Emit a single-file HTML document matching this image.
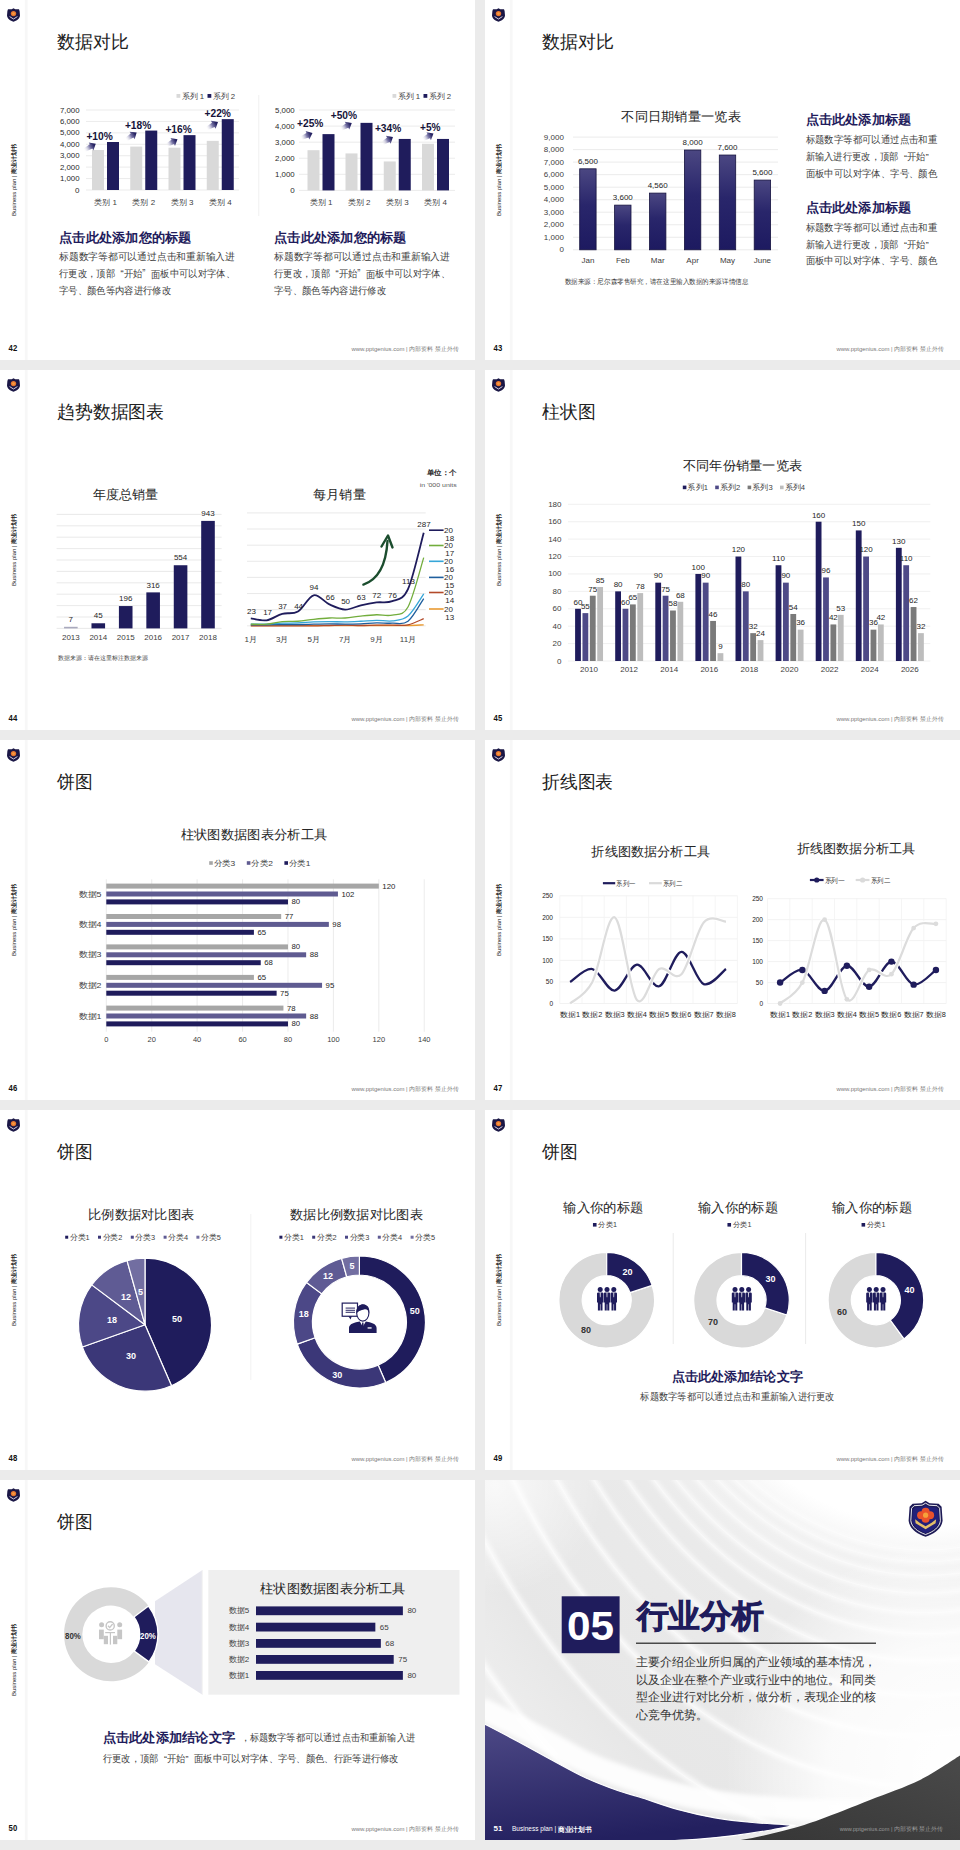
<!DOCTYPE html>
<html><head><meta charset="utf-8"><style>
html,body{margin:0;padding:0;background:#ebebeb;}
body{width:960px;height:1850px;position:relative;overflow:hidden;font-family:"Liberation Sans", sans-serif;}
.s{position:absolute;display:block;font-family:"Liberation Sans", sans-serif;}
</style></head><body>
<svg class="s" style="left:0px;top:0px" width="475" height="360" viewBox="0 0 475 360"><rect x="0.00" y="0.00" width="475.00" height="360.00" fill="#ffffff" /><rect x="24.80" y="0.00" width="2.80" height="360.00" fill="#f7f7f7" /><g transform="translate(7,8) scale(1.0000)"><path d="M6.5 0.2 L8.3 1.3 L12 1.2 L12.6 3 L13 7.5 C12.6 10.8 9.8 12.8 6.5 13.8 C3.2 12.8 0.4 10.8 0 7.5 L0.4 3 L1 1.2 L4.7 1.3 Z" fill="#1b1746"/><circle cx="6.5" cy="5.6" r="2.7" fill="#e8742e"/><circle cx="6.5" cy="5.6" r="1.4" fill="#f59b43"/><path d="M2.6 8.6 L6.5 11 L10.4 8.6" fill="none" stroke="#e6e0f0" stroke-width="0.9"/></g><g transform="translate(13.5,216) rotate(-90)"><text x="0" y="0" font-size="6" fill="#222" dominant-baseline="central">Business plan | <tspan font-weight="bold">商业计划书</tspan></text></g><text x="8.60" y="348.30" font-size="8.5" fill="#111" text-anchor="start" font-weight="bold" dominant-baseline="central" textLength="8.60" lengthAdjust="spacingAndGlyphs" >42</text><text x="458.50" y="349.00" font-size="6" fill="#7a7a7a" text-anchor="end" font-weight="normal" dominant-baseline="central" textLength="107.00" lengthAdjust="spacingAndGlyphs" >www.pptgenius.com | 内部资料 禁止外传</text><text x="57.00" y="41.50" font-size="18" fill="#222" text-anchor="start" font-weight="normal" dominant-baseline="central" >数据对比</text><line x1="86.00" y1="190.00" x2="239.00" y2="190.00" stroke="#e6e6e6" stroke-width="0.8" /><text x="79.50" y="190.00" font-size="8" fill="#2a2a2a" text-anchor="end" font-weight="normal" dominant-baseline="central" >0</text><line x1="86.00" y1="178.57" x2="239.00" y2="178.57" stroke="#e6e6e6" stroke-width="0.8" /><text x="79.50" y="178.57" font-size="8" fill="#2a2a2a" text-anchor="end" font-weight="normal" dominant-baseline="central" textLength="19.60" lengthAdjust="spacingAndGlyphs" >1,000</text><line x1="86.00" y1="167.14" x2="239.00" y2="167.14" stroke="#e6e6e6" stroke-width="0.8" /><text x="79.50" y="167.14" font-size="8" fill="#2a2a2a" text-anchor="end" font-weight="normal" dominant-baseline="central" textLength="19.60" lengthAdjust="spacingAndGlyphs" >2,000</text><line x1="86.00" y1="155.71" x2="239.00" y2="155.71" stroke="#e6e6e6" stroke-width="0.8" /><text x="79.50" y="155.71" font-size="8" fill="#2a2a2a" text-anchor="end" font-weight="normal" dominant-baseline="central" textLength="19.60" lengthAdjust="spacingAndGlyphs" >3,000</text><line x1="86.00" y1="144.29" x2="239.00" y2="144.29" stroke="#e6e6e6" stroke-width="0.8" /><text x="79.50" y="144.29" font-size="8" fill="#2a2a2a" text-anchor="end" font-weight="normal" dominant-baseline="central" textLength="19.60" lengthAdjust="spacingAndGlyphs" >4,000</text><line x1="86.00" y1="132.86" x2="239.00" y2="132.86" stroke="#e6e6e6" stroke-width="0.8" /><text x="79.50" y="132.86" font-size="8" fill="#2a2a2a" text-anchor="end" font-weight="normal" dominant-baseline="central" textLength="19.60" lengthAdjust="spacingAndGlyphs" >5,000</text><line x1="86.00" y1="121.43" x2="239.00" y2="121.43" stroke="#e6e6e6" stroke-width="0.8" /><text x="79.50" y="121.43" font-size="8" fill="#2a2a2a" text-anchor="end" font-weight="normal" dominant-baseline="central" textLength="19.60" lengthAdjust="spacingAndGlyphs" >6,000</text><line x1="86.00" y1="110.00" x2="239.00" y2="110.00" stroke="#e6e6e6" stroke-width="0.8" /><text x="79.50" y="110.00" font-size="8" fill="#2a2a2a" text-anchor="end" font-weight="normal" dominant-baseline="central" textLength="19.60" lengthAdjust="spacingAndGlyphs" >7,000</text><rect x="92.00" y="150.00" width="12.00" height="40.00" fill="#d9d9d9" /><rect x="107.00" y="142.00" width="12.00" height="48.00" fill="#1f1c5c" /><text x="105.50" y="202.50" font-size="8" fill="#404040" text-anchor="middle" font-weight="normal" dominant-baseline="central" >类别 1</text><rect x="130.25" y="146.57" width="12.00" height="43.43" fill="#d9d9d9" /><rect x="145.25" y="130.57" width="12.00" height="59.43" fill="#1f1c5c" /><text x="143.75" y="202.50" font-size="8" fill="#404040" text-anchor="middle" font-weight="normal" dominant-baseline="central" >类别 2</text><rect x="168.50" y="147.71" width="12.00" height="42.29" fill="#d9d9d9" /><rect x="183.50" y="135.14" width="12.00" height="54.86" fill="#1f1c5c" /><text x="182.00" y="202.50" font-size="8" fill="#404040" text-anchor="middle" font-weight="normal" dominant-baseline="central" >类别 3</text><rect x="206.75" y="140.86" width="12.00" height="49.14" fill="#d9d9d9" /><rect x="221.75" y="119.14" width="12.00" height="70.86" fill="#1f1c5c" /><text x="220.25" y="202.50" font-size="8" fill="#404040" text-anchor="middle" font-weight="normal" dominant-baseline="central" >类别 4</text><text x="86.40" y="136.00" font-size="11" fill="#15133a" text-anchor="start" font-weight="bold" dominant-baseline="central" textLength="26.40" lengthAdjust="spacingAndGlyphs" >+10%</text><text x="124.90" y="124.80" font-size="11" fill="#15133a" text-anchor="start" font-weight="bold" dominant-baseline="central" textLength="26.40" lengthAdjust="spacingAndGlyphs" >+18%</text><text x="165.40" y="128.60" font-size="11" fill="#15133a" text-anchor="start" font-weight="bold" dominant-baseline="central" textLength="26.40" lengthAdjust="spacingAndGlyphs" >+16%</text><text x="204.50" y="113.30" font-size="11" fill="#15133a" text-anchor="start" font-weight="bold" dominant-baseline="central" textLength="26.40" lengthAdjust="spacingAndGlyphs" >+22%</text><defs><linearGradient id="aar0" gradientUnits="userSpaceOnUse" x1="84" y1="150.5" x2="95.8" y2="143.7"><stop offset="0" stop-color="#ffffff" stop-opacity="0"/><stop offset="0.5" stop-color="#7d7aaa"/><stop offset="0.8" stop-color="#2a2766"/><stop offset="1" stop-color="#1f1c5c"/></linearGradient></defs><path d="M84.90,152.06 L92.28,148.61 L93.33,150.43 L95.80,143.70 L88.74,142.46 L89.79,144.28 L83.10,148.94 Z" fill="url(#aar0)"/><defs><linearGradient id="aar1" gradientUnits="userSpaceOnUse" x1="125.7" y1="139.7" x2="136.7" y2="132.5"><stop offset="0" stop-color="#ffffff" stop-opacity="0"/><stop offset="0.5" stop-color="#7d7aaa"/><stop offset="0.8" stop-color="#2a2766"/><stop offset="1" stop-color="#1f1c5c"/></linearGradient></defs><path d="M126.69,141.21 L133.47,137.60 L134.62,139.36 L136.70,132.50 L129.58,131.66 L130.73,133.42 L124.71,138.19 Z" fill="url(#aar1)"/><defs><linearGradient id="aar2" gradientUnits="userSpaceOnUse" x1="166.5" y1="145.5" x2="177.5" y2="139.2"><stop offset="0" stop-color="#ffffff" stop-opacity="0"/><stop offset="0.5" stop-color="#7d7aaa"/><stop offset="0.8" stop-color="#2a2766"/><stop offset="1" stop-color="#1f1c5c"/></linearGradient></defs><path d="M167.39,147.06 L173.97,144.10 L175.01,145.93 L177.50,139.20 L170.44,137.94 L171.48,139.76 L165.61,143.94 Z" fill="url(#aar2)"/><defs><linearGradient id="aar3" gradientUnits="userSpaceOnUse" x1="206.5" y1="128.8" x2="218" y2="122"><stop offset="0" stop-color="#ffffff" stop-opacity="0"/><stop offset="0.5" stop-color="#7d7aaa"/><stop offset="0.8" stop-color="#2a2766"/><stop offset="1" stop-color="#1f1c5c"/></linearGradient></defs><path d="M207.42,130.35 L214.54,126.95 L215.61,128.76 L218.00,122.00 L210.92,120.84 L211.99,122.65 L205.58,127.25 Z" fill="url(#aar3)"/><rect x="176.50" y="94.00" width="3.80" height="3.80" fill="#d9d9d9" /><text x="181.50" y="96.00" font-size="7.8" fill="#404040" text-anchor="start" font-weight="normal" dominant-baseline="central" >系列 1</text><rect x="207.50" y="94.00" width="3.80" height="3.80" fill="#1f1c5c" /><text x="212.50" y="96.00" font-size="7.8" fill="#404040" text-anchor="start" font-weight="normal" dominant-baseline="central" >系列 2</text><line x1="299.00" y1="190.40" x2="455.00" y2="190.40" stroke="#e6e6e6" stroke-width="0.8" /><text x="294.70" y="190.40" font-size="8" fill="#2a2a2a" text-anchor="end" font-weight="normal" dominant-baseline="central" >0</text><line x1="299.00" y1="174.32" x2="455.00" y2="174.32" stroke="#e6e6e6" stroke-width="0.8" /><text x="294.70" y="174.32" font-size="8" fill="#2a2a2a" text-anchor="end" font-weight="normal" dominant-baseline="central" textLength="19.60" lengthAdjust="spacingAndGlyphs" >1,000</text><line x1="299.00" y1="158.24" x2="455.00" y2="158.24" stroke="#e6e6e6" stroke-width="0.8" /><text x="294.70" y="158.24" font-size="8" fill="#2a2a2a" text-anchor="end" font-weight="normal" dominant-baseline="central" textLength="19.60" lengthAdjust="spacingAndGlyphs" >2,000</text><line x1="299.00" y1="142.16" x2="455.00" y2="142.16" stroke="#e6e6e6" stroke-width="0.8" /><text x="294.70" y="142.16" font-size="8" fill="#2a2a2a" text-anchor="end" font-weight="normal" dominant-baseline="central" textLength="19.60" lengthAdjust="spacingAndGlyphs" >3,000</text><line x1="299.00" y1="126.08" x2="455.00" y2="126.08" stroke="#e6e6e6" stroke-width="0.8" /><text x="294.70" y="126.08" font-size="8" fill="#2a2a2a" text-anchor="end" font-weight="normal" dominant-baseline="central" textLength="19.60" lengthAdjust="spacingAndGlyphs" >4,000</text><line x1="299.00" y1="110.00" x2="455.00" y2="110.00" stroke="#e6e6e6" stroke-width="0.8" /><text x="294.70" y="110.00" font-size="8" fill="#2a2a2a" text-anchor="end" font-weight="normal" dominant-baseline="central" textLength="19.60" lengthAdjust="spacingAndGlyphs" >5,000</text><rect x="307.50" y="150.20" width="12.00" height="40.20" fill="#d9d9d9" /><rect x="322.50" y="134.12" width="12.00" height="56.28" fill="#1f1c5c" /><text x="321.00" y="202.50" font-size="8" fill="#404040" text-anchor="middle" font-weight="normal" dominant-baseline="central" >类别 1</text><rect x="345.50" y="153.42" width="12.00" height="36.98" fill="#d9d9d9" /><rect x="360.50" y="122.86" width="12.00" height="67.54" fill="#1f1c5c" /><text x="359.00" y="202.50" font-size="8" fill="#404040" text-anchor="middle" font-weight="normal" dominant-baseline="central" >类别 2</text><rect x="383.75" y="161.46" width="12.00" height="28.94" fill="#d9d9d9" /><rect x="398.75" y="138.94" width="12.00" height="51.46" fill="#1f1c5c" /><text x="397.25" y="202.50" font-size="8" fill="#404040" text-anchor="middle" font-weight="normal" dominant-baseline="central" >类别 3</text><rect x="422.00" y="143.77" width="12.00" height="46.63" fill="#d9d9d9" /><rect x="437.00" y="138.94" width="12.00" height="51.46" fill="#1f1c5c" /><text x="435.50" y="202.50" font-size="8" fill="#404040" text-anchor="middle" font-weight="normal" dominant-baseline="central" >类别 4</text><text x="297.00" y="123.00" font-size="11" fill="#15133a" text-anchor="start" font-weight="bold" dominant-baseline="central" textLength="26.40" lengthAdjust="spacingAndGlyphs" >+25%</text><text x="330.70" y="114.80" font-size="11" fill="#15133a" text-anchor="start" font-weight="bold" dominant-baseline="central" textLength="26.40" lengthAdjust="spacingAndGlyphs" >+50%</text><text x="374.90" y="127.70" font-size="11" fill="#15133a" text-anchor="start" font-weight="bold" dominant-baseline="central" textLength="26.40" lengthAdjust="spacingAndGlyphs" >+34%</text><text x="420.00" y="126.50" font-size="11" fill="#15133a" text-anchor="start" font-weight="bold" dominant-baseline="central" textLength="20.50" lengthAdjust="spacingAndGlyphs" >+5%</text><defs><linearGradient id="bar0" gradientUnits="userSpaceOnUse" x1="300.6" y1="138.3" x2="312.5" y2="133.1"><stop offset="0" stop-color="#ffffff" stop-opacity="0"/><stop offset="0.5" stop-color="#7d7aaa"/><stop offset="0.8" stop-color="#2a2766"/><stop offset="1" stop-color="#1f1c5c"/></linearGradient></defs><path d="M301.32,139.95 L308.46,137.59 L309.30,139.52 L312.50,133.10 L305.62,131.09 L306.46,133.01 L299.88,136.65 Z" fill="url(#bar0)"/><defs><linearGradient id="bar1" gradientUnits="userSpaceOnUse" x1="340.6" y1="129.3" x2="351.8" y2="122.9"><stop offset="0" stop-color="#ffffff" stop-opacity="0"/><stop offset="0.5" stop-color="#7d7aaa"/><stop offset="0.8" stop-color="#2a2766"/><stop offset="1" stop-color="#1f1c5c"/></linearGradient></defs><path d="M341.49,130.86 L348.27,127.80 L349.31,129.62 L351.80,122.90 L344.74,121.63 L345.78,123.46 L339.71,127.74 Z" fill="url(#bar1)"/><defs><linearGradient id="bar2" gradientUnits="userSpaceOnUse" x1="382" y1="143.5" x2="393" y2="137"><stop offset="0" stop-color="#ffffff" stop-opacity="0"/><stop offset="0.5" stop-color="#7d7aaa"/><stop offset="0.8" stop-color="#2a2766"/><stop offset="1" stop-color="#1f1c5c"/></linearGradient></defs><path d="M382.92,145.05 L389.54,141.95 L390.61,143.76 L393.00,137.00 L385.92,135.84 L386.99,137.65 L381.08,141.95 Z" fill="url(#bar2)"/><defs><linearGradient id="bar3" gradientUnits="userSpaceOnUse" x1="422.7" y1="139.5" x2="433.5" y2="133.5"><stop offset="0" stop-color="#ffffff" stop-opacity="0"/><stop offset="0.5" stop-color="#7d7aaa"/><stop offset="0.8" stop-color="#2a2766"/><stop offset="1" stop-color="#1f1c5c"/></linearGradient></defs><path d="M423.57,141.07 L429.91,138.36 L430.93,140.19 L433.50,133.50 L426.46,132.15 L427.48,133.99 L421.83,137.93 Z" fill="url(#bar3)"/><rect x="392.50" y="94.00" width="3.80" height="3.80" fill="#d9d9d9" /><text x="397.50" y="96.00" font-size="7.8" fill="#404040" text-anchor="start" font-weight="normal" dominant-baseline="central" >系列 1</text><rect x="423.50" y="94.00" width="3.80" height="3.80" fill="#1f1c5c" /><text x="428.50" y="96.00" font-size="7.8" fill="#404040" text-anchor="start" font-weight="normal" dominant-baseline="central" >系列 2</text><line x1="258.80" y1="95.00" x2="258.80" y2="216.00" stroke="#f0f0f0" stroke-width="1" /><text x="59.00" y="237.00" font-size="13" fill="#1f1c5c" text-anchor="start" font-weight="bold" dominant-baseline="central" textLength="132.50" lengthAdjust="spacingAndGlyphs" >点击此处添加您的标题</text><text x="59.00" y="256.50" font-size="10" fill="#404040" text-anchor="start" font-weight="normal" dominant-baseline="central" textLength="176.00" lengthAdjust="spacingAndGlyphs" >标题数字等都可以通过点击和重新输入进</text><text x="59.00" y="273.70" font-size="10" fill="#404040" text-anchor="start" font-weight="normal" dominant-baseline="central" textLength="176.00" lengthAdjust="spacingAndGlyphs" >行更改，顶部<tspan dx="6">“</tspan>开始”<tspan dx="6">面</tspan>板中可以对字体、</text><text x="59.00" y="290.80" font-size="10" fill="#404040" text-anchor="start" font-weight="normal" dominant-baseline="central" textLength="112.00" lengthAdjust="spacingAndGlyphs" >字号、颜色等内容进行修改</text><text x="274.00" y="237.00" font-size="13" fill="#1f1c5c" text-anchor="start" font-weight="bold" dominant-baseline="central" textLength="132.50" lengthAdjust="spacingAndGlyphs" >点击此处添加您的标题</text><text x="274.00" y="256.50" font-size="10" fill="#404040" text-anchor="start" font-weight="normal" dominant-baseline="central" textLength="176.00" lengthAdjust="spacingAndGlyphs" >标题数字等都可以通过点击和重新输入进</text><text x="274.00" y="273.70" font-size="10" fill="#404040" text-anchor="start" font-weight="normal" dominant-baseline="central" textLength="176.00" lengthAdjust="spacingAndGlyphs" >行更改，顶部<tspan dx="6">“</tspan>开始”<tspan dx="6">面</tspan>板中可以对字体、</text><text x="274.00" y="290.80" font-size="10" fill="#404040" text-anchor="start" font-weight="normal" dominant-baseline="central" textLength="112.00" lengthAdjust="spacingAndGlyphs" >字号、颜色等内容进行修改</text></svg><svg class="s" style="left:485px;top:0px" width="475" height="360" viewBox="0 0 475 360"><rect x="0.00" y="0.00" width="475.00" height="360.00" fill="#ffffff" /><rect x="24.80" y="0.00" width="2.80" height="360.00" fill="#f7f7f7" /><g transform="translate(7,8) scale(1.0000)"><path d="M6.5 0.2 L8.3 1.3 L12 1.2 L12.6 3 L13 7.5 C12.6 10.8 9.8 12.8 6.5 13.8 C3.2 12.8 0.4 10.8 0 7.5 L0.4 3 L1 1.2 L4.7 1.3 Z" fill="#1b1746"/><circle cx="6.5" cy="5.6" r="2.7" fill="#e8742e"/><circle cx="6.5" cy="5.6" r="1.4" fill="#f59b43"/><path d="M2.6 8.6 L6.5 11 L10.4 8.6" fill="none" stroke="#e6e0f0" stroke-width="0.9"/></g><g transform="translate(13.5,216) rotate(-90)"><text x="0" y="0" font-size="6" fill="#222" dominant-baseline="central">Business plan | <tspan font-weight="bold">商业计划书</tspan></text></g><text x="8.60" y="348.30" font-size="8.5" fill="#111" text-anchor="start" font-weight="bold" dominant-baseline="central" textLength="8.60" lengthAdjust="spacingAndGlyphs" >43</text><text x="458.50" y="349.00" font-size="6" fill="#7a7a7a" text-anchor="end" font-weight="normal" dominant-baseline="central" textLength="107.00" lengthAdjust="spacingAndGlyphs" >www.pptgenius.com | 内部资料 禁止外传</text><text x="57.00" y="41.50" font-size="18" fill="#222" text-anchor="start" font-weight="normal" dominant-baseline="central" >数据对比</text><text x="196.10" y="116.00" font-size="13" fill="#262626" text-anchor="middle" font-weight="normal" dominant-baseline="central" textLength="119.50" lengthAdjust="spacingAndGlyphs" >不同日期销量一览表</text><line x1="88.00" y1="249.80" x2="293.00" y2="249.80" stroke="#e6e6e6" stroke-width="0.8" /><text x="78.90" y="249.80" font-size="8" fill="#404040" text-anchor="end" font-weight="normal" dominant-baseline="central" >0</text><line x1="88.00" y1="237.28" x2="293.00" y2="237.28" stroke="#e6e6e6" stroke-width="0.8" /><text x="78.90" y="237.28" font-size="8" fill="#404040" text-anchor="end" font-weight="normal" dominant-baseline="central" >1,000</text><line x1="88.00" y1="224.76" x2="293.00" y2="224.76" stroke="#e6e6e6" stroke-width="0.8" /><text x="78.90" y="224.76" font-size="8" fill="#404040" text-anchor="end" font-weight="normal" dominant-baseline="central" >2,000</text><line x1="88.00" y1="212.23" x2="293.00" y2="212.23" stroke="#e6e6e6" stroke-width="0.8" /><text x="78.90" y="212.23" font-size="8" fill="#404040" text-anchor="end" font-weight="normal" dominant-baseline="central" >3,000</text><line x1="88.00" y1="199.71" x2="293.00" y2="199.71" stroke="#e6e6e6" stroke-width="0.8" /><text x="78.90" y="199.71" font-size="8" fill="#404040" text-anchor="end" font-weight="normal" dominant-baseline="central" >4,000</text><line x1="88.00" y1="187.19" x2="293.00" y2="187.19" stroke="#e6e6e6" stroke-width="0.8" /><text x="78.90" y="187.19" font-size="8" fill="#404040" text-anchor="end" font-weight="normal" dominant-baseline="central" >5,000</text><line x1="88.00" y1="174.67" x2="293.00" y2="174.67" stroke="#e6e6e6" stroke-width="0.8" /><text x="78.90" y="174.67" font-size="8" fill="#404040" text-anchor="end" font-weight="normal" dominant-baseline="central" >6,000</text><line x1="88.00" y1="162.14" x2="293.00" y2="162.14" stroke="#e6e6e6" stroke-width="0.8" /><text x="78.90" y="162.14" font-size="8" fill="#404040" text-anchor="end" font-weight="normal" dominant-baseline="central" >7,000</text><line x1="88.00" y1="149.62" x2="293.00" y2="149.62" stroke="#e6e6e6" stroke-width="0.8" /><text x="78.90" y="149.62" font-size="8" fill="#404040" text-anchor="end" font-weight="normal" dominant-baseline="central" >8,000</text><line x1="88.00" y1="137.10" x2="293.00" y2="137.10" stroke="#e6e6e6" stroke-width="0.8" /><text x="78.90" y="137.10" font-size="8" fill="#404040" text-anchor="end" font-weight="normal" dominant-baseline="central" >9,000</text><defs><linearGradient id="g43" x1="0" y1="0" x2="0" y2="1"><stop offset="0" stop-color="#4b4782"/><stop offset="0.45" stop-color="#29266b"/><stop offset="1" stop-color="#1d1a60"/></linearGradient></defs><rect x="94.70" y="168.81" width="16.40" height="80.99" fill="url(#g43)" stroke="#16133f" stroke-width="0.8"/><text x="102.90" y="161.41" font-size="8" fill="#262626" text-anchor="middle" font-weight="normal" dominant-baseline="central" >6,500</text><text x="102.90" y="260.30" font-size="8" fill="#404040" text-anchor="middle" font-weight="normal" dominant-baseline="central" >Jan</text><rect x="129.60" y="205.12" width="16.40" height="44.68" fill="url(#g43)" stroke="#16133f" stroke-width="0.8"/><text x="137.80" y="197.72" font-size="8" fill="#262626" text-anchor="middle" font-weight="normal" dominant-baseline="central" >3,600</text><text x="137.80" y="260.30" font-size="8" fill="#404040" text-anchor="middle" font-weight="normal" dominant-baseline="central" >Feb</text><rect x="164.50" y="193.10" width="16.40" height="56.70" fill="url(#g43)" stroke="#16133f" stroke-width="0.8"/><text x="172.70" y="185.70" font-size="8" fill="#262626" text-anchor="middle" font-weight="normal" dominant-baseline="central" >4,560</text><text x="172.70" y="260.30" font-size="8" fill="#404040" text-anchor="middle" font-weight="normal" dominant-baseline="central" >Mar</text><rect x="199.40" y="150.02" width="16.40" height="99.78" fill="url(#g43)" stroke="#16133f" stroke-width="0.8"/><text x="207.60" y="142.62" font-size="8" fill="#262626" text-anchor="middle" font-weight="normal" dominant-baseline="central" >8,000</text><text x="207.60" y="260.30" font-size="8" fill="#404040" text-anchor="middle" font-weight="normal" dominant-baseline="central" >Apr</text><rect x="234.30" y="155.03" width="16.40" height="94.77" fill="url(#g43)" stroke="#16133f" stroke-width="0.8"/><text x="242.50" y="147.63" font-size="8" fill="#262626" text-anchor="middle" font-weight="normal" dominant-baseline="central" >7,600</text><text x="242.50" y="260.30" font-size="8" fill="#404040" text-anchor="middle" font-weight="normal" dominant-baseline="central" >May</text><rect x="269.20" y="180.08" width="16.40" height="69.72" fill="url(#g43)" stroke="#16133f" stroke-width="0.8"/><text x="277.40" y="172.68" font-size="8" fill="#262626" text-anchor="middle" font-weight="normal" dominant-baseline="central" >5,600</text><text x="277.40" y="260.30" font-size="8" fill="#404040" text-anchor="middle" font-weight="normal" dominant-baseline="central" >June</text><text x="79.70" y="281.00" font-size="6.5" fill="#404040" text-anchor="start" font-weight="normal" dominant-baseline="central" textLength="183.50" lengthAdjust="spacingAndGlyphs" >数据来源：尼尔森零售研究，请在这里输入数据的来源详情信息</text><text x="320.60" y="119.50" font-size="13" fill="#1f1c5c" text-anchor="start" font-weight="bold" dominant-baseline="central" textLength="105.50" lengthAdjust="spacingAndGlyphs" >点击此处添加标题</text><text x="320.60" y="139.80" font-size="9.5" fill="#404040" text-anchor="start" font-weight="normal" dominant-baseline="central" textLength="131.50" lengthAdjust="spacingAndGlyphs" >标题数字等都可以通过点击和重</text><text x="320.60" y="156.70" font-size="9.5" fill="#404040" text-anchor="start" font-weight="normal" dominant-baseline="central" textLength="123.00" lengthAdjust="spacingAndGlyphs" >新输入进行更改，顶部<tspan dx="6">“</tspan>开始”</text><text x="320.60" y="173.10" font-size="9.5" fill="#404040" text-anchor="start" font-weight="normal" dominant-baseline="central" textLength="131.50" lengthAdjust="spacingAndGlyphs" >面板中可以对字体、字号、颜色</text><text x="320.60" y="207.10" font-size="13" fill="#1f1c5c" text-anchor="start" font-weight="bold" dominant-baseline="central" textLength="105.50" lengthAdjust="spacingAndGlyphs" >点击此处添加标题</text><text x="320.60" y="227.40" font-size="9.5" fill="#404040" text-anchor="start" font-weight="normal" dominant-baseline="central" textLength="131.50" lengthAdjust="spacingAndGlyphs" >标题数字等都可以通过点击和重</text><text x="320.60" y="244.30" font-size="9.5" fill="#404040" text-anchor="start" font-weight="normal" dominant-baseline="central" textLength="123.00" lengthAdjust="spacingAndGlyphs" >新输入进行更改，顶部<tspan dx="6">“</tspan>开始”</text><text x="320.60" y="260.70" font-size="9.5" fill="#404040" text-anchor="start" font-weight="normal" dominant-baseline="central" textLength="131.50" lengthAdjust="spacingAndGlyphs" >面板中可以对字体、字号、颜色</text></svg><svg class="s" style="left:0px;top:370px" width="475" height="360" viewBox="0 0 475 360"><rect x="0.00" y="0.00" width="475.00" height="360.00" fill="#ffffff" /><rect x="24.80" y="0.00" width="2.80" height="360.00" fill="#f7f7f7" /><g transform="translate(7,8) scale(1.0000)"><path d="M6.5 0.2 L8.3 1.3 L12 1.2 L12.6 3 L13 7.5 C12.6 10.8 9.8 12.8 6.5 13.8 C3.2 12.8 0.4 10.8 0 7.5 L0.4 3 L1 1.2 L4.7 1.3 Z" fill="#1b1746"/><circle cx="6.5" cy="5.6" r="2.7" fill="#e8742e"/><circle cx="6.5" cy="5.6" r="1.4" fill="#f59b43"/><path d="M2.6 8.6 L6.5 11 L10.4 8.6" fill="none" stroke="#e6e0f0" stroke-width="0.9"/></g><g transform="translate(13.5,216) rotate(-90)"><text x="0" y="0" font-size="6" fill="#222" dominant-baseline="central">Business plan | <tspan font-weight="bold">商业计划书</tspan></text></g><text x="8.60" y="348.30" font-size="8.5" fill="#111" text-anchor="start" font-weight="bold" dominant-baseline="central" textLength="8.60" lengthAdjust="spacingAndGlyphs" >44</text><text x="458.50" y="349.00" font-size="6" fill="#7a7a7a" text-anchor="end" font-weight="normal" dominant-baseline="central" textLength="107.00" lengthAdjust="spacingAndGlyphs" >www.pptgenius.com | 内部资料 禁止外传</text><text x="57.00" y="41.50" font-size="18" fill="#222" text-anchor="start" font-weight="normal" dominant-baseline="central" textLength="107.00" lengthAdjust="spacingAndGlyphs" >趋势数据图表</text><text x="125.60" y="124.40" font-size="13" fill="#262626" text-anchor="middle" font-weight="normal" dominant-baseline="central" textLength="65.50" lengthAdjust="spacingAndGlyphs" >年度总销量</text><line x1="56.60" y1="258.40" x2="221.60" y2="258.40" stroke="#e3e3e3" stroke-width="0.8" /><line x1="56.60" y1="247.00" x2="221.60" y2="247.00" stroke="#e3e3e3" stroke-width="0.8" /><line x1="56.60" y1="235.60" x2="221.60" y2="235.60" stroke="#e3e3e3" stroke-width="0.8" /><line x1="56.60" y1="224.20" x2="221.60" y2="224.20" stroke="#e3e3e3" stroke-width="0.8" /><line x1="56.60" y1="212.80" x2="221.60" y2="212.80" stroke="#e3e3e3" stroke-width="0.8" /><line x1="56.60" y1="201.40" x2="221.60" y2="201.40" stroke="#e3e3e3" stroke-width="0.8" /><line x1="56.60" y1="190.00" x2="221.60" y2="190.00" stroke="#e3e3e3" stroke-width="0.8" /><line x1="56.60" y1="178.60" x2="221.60" y2="178.60" stroke="#e3e3e3" stroke-width="0.8" /><line x1="56.60" y1="167.20" x2="221.60" y2="167.20" stroke="#e3e3e3" stroke-width="0.8" /><line x1="56.60" y1="155.80" x2="221.60" y2="155.80" stroke="#e3e3e3" stroke-width="0.8" /><line x1="56.60" y1="144.40" x2="221.60" y2="144.40" stroke="#e3e3e3" stroke-width="0.8" /><rect x="64.05" y="256.80" width="13.60" height="1.60" fill="#a9a9bd" /><text x="70.85" y="249.50" font-size="8" fill="#262626" text-anchor="middle" font-weight="normal" dominant-baseline="central" >7</text><text x="70.85" y="267.80" font-size="8" fill="#404040" text-anchor="middle" font-weight="normal" dominant-baseline="central" >2013</text><rect x="91.48" y="253.27" width="13.60" height="5.13" fill="#1f1c5c" /><text x="98.28" y="245.97" font-size="8" fill="#262626" text-anchor="middle" font-weight="normal" dominant-baseline="central" >45</text><text x="98.28" y="267.80" font-size="8" fill="#404040" text-anchor="middle" font-weight="normal" dominant-baseline="central" >2014</text><rect x="118.91" y="236.06" width="13.60" height="22.34" fill="#1f1c5c" /><text x="125.71" y="228.76" font-size="8" fill="#262626" text-anchor="middle" font-weight="normal" dominant-baseline="central" >196</text><text x="125.71" y="267.80" font-size="8" fill="#404040" text-anchor="middle" font-weight="normal" dominant-baseline="central" >2015</text><rect x="146.34" y="222.38" width="13.60" height="36.02" fill="#1f1c5c" /><text x="153.14" y="215.08" font-size="8" fill="#262626" text-anchor="middle" font-weight="normal" dominant-baseline="central" >316</text><text x="153.14" y="267.80" font-size="8" fill="#404040" text-anchor="middle" font-weight="normal" dominant-baseline="central" >2016</text><rect x="173.77" y="195.24" width="13.60" height="63.16" fill="#1f1c5c" /><text x="180.57" y="187.94" font-size="8" fill="#262626" text-anchor="middle" font-weight="normal" dominant-baseline="central" >554</text><text x="180.57" y="267.80" font-size="8" fill="#404040" text-anchor="middle" font-weight="normal" dominant-baseline="central" >2017</text><rect x="201.20" y="150.90" width="13.60" height="107.50" fill="#1f1c5c" /><text x="208.00" y="143.60" font-size="8" fill="#262626" text-anchor="middle" font-weight="normal" dominant-baseline="central" >943</text><text x="208.00" y="267.80" font-size="8" fill="#404040" text-anchor="middle" font-weight="normal" dominant-baseline="central" >2018</text><text x="57.90" y="288.40" font-size="6" fill="#404040" text-anchor="start" font-weight="normal" dominant-baseline="central" textLength="90.00" lengthAdjust="spacingAndGlyphs" >数据来源：请在这里标注数据来源</text><text x="339.40" y="124.70" font-size="13" fill="#262626" text-anchor="middle" font-weight="normal" dominant-baseline="central" textLength="52.70" lengthAdjust="spacingAndGlyphs" >每月销量</text><text x="456.80" y="102.00" font-size="7" fill="#262626" text-anchor="end" font-weight="bold" dominant-baseline="central" textLength="30.00" lengthAdjust="spacingAndGlyphs" >单位：个</text><text x="456.80" y="114.70" font-size="6" fill="#595959" text-anchor="end" font-weight="normal" dominant-baseline="central" textLength="37.00" lengthAdjust="spacingAndGlyphs" >in '000 units</text><line x1="247.00" y1="255.80" x2="425.70" y2="255.80" stroke="#e3e3e3" stroke-width="0.8" /><line x1="247.00" y1="239.67" x2="425.70" y2="239.67" stroke="#e3e3e3" stroke-width="0.8" /><line x1="247.00" y1="223.54" x2="425.70" y2="223.54" stroke="#e3e3e3" stroke-width="0.8" /><line x1="247.00" y1="207.41" x2="425.70" y2="207.41" stroke="#e3e3e3" stroke-width="0.8" /><line x1="247.00" y1="191.29" x2="425.70" y2="191.29" stroke="#e3e3e3" stroke-width="0.8" /><line x1="247.00" y1="175.16" x2="425.70" y2="175.16" stroke="#e3e3e3" stroke-width="0.8" /><line x1="247.00" y1="159.03" x2="425.70" y2="159.03" stroke="#e3e3e3" stroke-width="0.8" /><line x1="247.00" y1="142.90" x2="425.70" y2="142.90" stroke="#e3e3e3" stroke-width="0.8" /><path d="M250.80,255.48 C253.42,255.48 261.28,255.48 266.52,255.48 C271.76,255.48 277.00,255.48 282.24,255.48 C287.48,255.48 292.72,255.48 297.96,255.48 C303.20,255.48 308.44,255.48 313.68,255.48 C318.92,255.48 324.16,255.48 329.40,255.48 C334.64,255.48 339.88,255.48 345.12,255.48 C350.36,255.48 355.60,255.48 360.84,255.48 C366.08,255.48 371.32,255.48 376.56,255.48 C381.80,255.48 387.04,255.48 392.28,255.48 C397.52,255.48 402.76,255.58 408.00,255.48 C413.24,255.37 421.10,254.93 423.72,254.83" fill="none" stroke="#e99a32" stroke-width="1.3"/><path d="M250.80,255.80 C253.42,255.80 261.28,255.80 266.52,255.80 C271.76,255.80 277.00,255.80 282.24,255.80 C287.48,255.80 292.72,255.80 297.96,255.80 C303.20,255.80 308.44,255.85 313.68,255.80 C318.92,255.75 324.16,255.58 329.40,255.48 C334.64,255.37 339.88,255.15 345.12,255.15 C350.36,255.15 355.60,255.48 360.84,255.48 C366.08,255.48 371.32,255.20 376.56,255.15 C381.80,255.10 387.04,255.20 392.28,255.15 C397.52,255.10 402.76,255.91 408.00,254.83 C413.24,253.74 421.10,249.69 423.72,248.66" fill="none" stroke="#b34a2a" stroke-width="1.3"/><path d="M250.80,254.83 C253.42,254.83 261.28,254.88 266.52,254.83 C271.76,254.77 277.00,254.56 282.24,254.50 C287.48,254.45 292.72,254.56 297.96,254.50 C303.20,254.45 308.44,254.29 313.68,254.18 C318.92,254.07 324.16,253.85 329.40,253.85 C334.64,253.85 339.88,254.18 345.12,254.18 C350.36,254.18 355.60,254.07 360.84,253.85 C366.08,253.64 371.32,252.99 376.56,252.88 C381.80,252.77 387.04,253.47 392.28,253.20 C397.52,252.93 402.76,255.37 408.00,251.26 C413.24,247.14 421.10,232.32 423.72,228.53" fill="none" stroke="#1f5f9e" stroke-width="1.3"/><path d="M250.80,254.18 C253.42,254.18 261.28,254.34 266.52,254.18 C271.76,254.01 277.00,253.42 282.24,253.20 C287.48,252.99 292.72,253.09 297.96,252.88 C303.20,252.66 308.44,252.12 313.68,251.90 C318.92,251.69 324.16,251.58 329.40,251.58 C334.64,251.58 339.88,251.96 345.12,251.90 C350.36,251.85 355.60,251.53 360.84,251.26 C366.08,250.99 371.32,250.34 376.56,250.28 C381.80,250.23 387.04,251.63 392.28,250.93 C397.52,250.23 402.76,250.55 408.00,246.06 C413.24,241.57 421.10,227.67 423.72,223.99" fill="none" stroke="#36a6d8" stroke-width="1.3"/><path d="M250.80,254.18 C253.42,254.18 261.28,254.61 266.52,254.18 C271.76,253.74 277.00,252.07 282.24,251.58 C287.48,251.09 292.72,251.63 297.96,251.26 C303.20,250.88 308.44,249.85 313.68,249.31 C318.92,248.77 324.16,248.23 329.40,248.01 C334.64,247.79 339.88,248.33 345.12,248.01 C350.36,247.69 355.60,246.60 360.84,246.06 C366.08,245.52 371.32,244.93 376.56,244.76 C381.80,244.60 387.04,246.39 392.28,245.09 C397.52,243.79 402.76,246.55 408.00,236.97 C413.24,227.40 421.10,195.86 423.72,187.63" fill="none" stroke="#72ad3c" stroke-width="1.3"/><path d="M250.80,248.33 C253.42,248.66 261.28,251.04 266.52,250.28 C271.76,249.52 277.00,245.25 282.24,243.79 C287.48,242.33 292.72,244.60 297.96,241.52 C303.20,238.43 308.44,226.48 313.68,225.29 C318.92,224.10 324.16,232.00 329.40,234.38 C334.64,236.76 339.88,239.41 345.12,239.57 C350.36,239.73 355.60,236.54 360.84,235.35 C366.08,234.16 371.32,233.13 376.56,232.43 C381.80,231.73 387.04,233.35 392.28,231.13 C397.52,228.91 402.76,230.54 408.00,219.12 C413.24,207.71 421.10,172.05 423.72,162.64" fill="none" stroke="#1f1c5c" stroke-width="1.8"/><text x="251.50" y="241.00" font-size="8" fill="#262626" text-anchor="middle" font-weight="normal" dominant-baseline="central" >23</text><text x="267.60" y="242.00" font-size="8" fill="#262626" text-anchor="middle" font-weight="normal" dominant-baseline="central" >17</text><text x="282.60" y="236.00" font-size="8" fill="#262626" text-anchor="middle" font-weight="normal" dominant-baseline="central" >37</text><text x="298.60" y="236.00" font-size="8" fill="#262626" text-anchor="middle" font-weight="normal" dominant-baseline="central" >44</text><text x="314.00" y="217.70" font-size="8" fill="#262626" text-anchor="middle" font-weight="normal" dominant-baseline="central" >94</text><text x="330.30" y="227.00" font-size="8" fill="#262626" text-anchor="middle" font-weight="normal" dominant-baseline="central" >66</text><text x="345.60" y="231.80" font-size="8" fill="#262626" text-anchor="middle" font-weight="normal" dominant-baseline="central" >50</text><text x="361.20" y="227.80" font-size="8" fill="#262626" text-anchor="middle" font-weight="normal" dominant-baseline="central" >63</text><text x="376.80" y="225.40" font-size="8" fill="#262626" text-anchor="middle" font-weight="normal" dominant-baseline="central" >72</text><text x="392.40" y="225.40" font-size="8" fill="#262626" text-anchor="middle" font-weight="normal" dominant-baseline="central" >76</text><text x="408.50" y="211.70" font-size="8" fill="#262626" text-anchor="middle" font-weight="normal" dominant-baseline="central" >113</text><text x="424.00" y="154.70" font-size="8" fill="#262626" text-anchor="middle" font-weight="normal" dominant-baseline="central" >287</text><text x="250.80" y="269.20" font-size="8" fill="#404040" text-anchor="middle" font-weight="normal" dominant-baseline="central" >1月</text><text x="282.24" y="269.20" font-size="8" fill="#404040" text-anchor="middle" font-weight="normal" dominant-baseline="central" >3月</text><text x="313.68" y="269.20" font-size="8" fill="#404040" text-anchor="middle" font-weight="normal" dominant-baseline="central" >5月</text><text x="345.12" y="269.20" font-size="8" fill="#404040" text-anchor="middle" font-weight="normal" dominant-baseline="central" >7月</text><text x="376.56" y="269.20" font-size="8" fill="#404040" text-anchor="middle" font-weight="normal" dominant-baseline="central" >9月</text><text x="408.00" y="269.20" font-size="8" fill="#404040" text-anchor="middle" font-weight="normal" dominant-baseline="central" >11月</text><line x1="429.00" y1="160.20" x2="443.60" y2="160.20" stroke="#1f1c5c" stroke-width="1.6" /><text x="444.00" y="160.20" font-size="8" fill="#262626" text-anchor="start" font-weight="normal" dominant-baseline="central" >20</text><text x="445.20" y="168.60" font-size="8" fill="#262626" text-anchor="start" font-weight="normal" dominant-baseline="central" >18</text><line x1="429.00" y1="175.50" x2="443.60" y2="175.50" stroke="#72ad3c" stroke-width="1.6" /><text x="444.00" y="175.50" font-size="8" fill="#262626" text-anchor="start" font-weight="normal" dominant-baseline="central" >20</text><text x="445.20" y="183.90" font-size="8" fill="#262626" text-anchor="start" font-weight="normal" dominant-baseline="central" >17</text><line x1="429.00" y1="191.30" x2="443.60" y2="191.30" stroke="#36a6d8" stroke-width="1.6" /><text x="444.00" y="191.30" font-size="8" fill="#262626" text-anchor="start" font-weight="normal" dominant-baseline="central" >20</text><text x="445.20" y="199.70" font-size="8" fill="#262626" text-anchor="start" font-weight="normal" dominant-baseline="central" >16</text><line x1="429.00" y1="207.40" x2="443.60" y2="207.40" stroke="#1f5f9e" stroke-width="1.6" /><text x="444.00" y="207.40" font-size="8" fill="#262626" text-anchor="start" font-weight="normal" dominant-baseline="central" >20</text><text x="445.20" y="215.80" font-size="8" fill="#262626" text-anchor="start" font-weight="normal" dominant-baseline="central" >15</text><line x1="429.00" y1="222.50" x2="443.60" y2="222.50" stroke="#b34a2a" stroke-width="1.6" /><text x="444.00" y="222.50" font-size="8" fill="#262626" text-anchor="start" font-weight="normal" dominant-baseline="central" >20</text><text x="445.20" y="230.90" font-size="8" fill="#262626" text-anchor="start" font-weight="normal" dominant-baseline="central" >14</text><line x1="429.00" y1="239.00" x2="443.60" y2="239.00" stroke="#e99a32" stroke-width="1.6" /><text x="444.00" y="239.00" font-size="8" fill="#262626" text-anchor="start" font-weight="normal" dominant-baseline="central" >20</text><text x="445.20" y="247.40" font-size="8" fill="#262626" text-anchor="start" font-weight="normal" dominant-baseline="central" >13</text><path d="M363.4,214.6 C377,210 386,196 387.5,171" fill="none" stroke="#1b4d2e" stroke-width="2.4" stroke-linecap="round"/><path d="M381.5,176.5 L388,165.5 L392.5,177.5" fill="none" stroke="#1b4d2e" stroke-width="2.4" stroke-linecap="round" stroke-linejoin="round"/></svg><svg class="s" style="left:485px;top:370px" width="475" height="360" viewBox="0 0 475 360"><rect x="0.00" y="0.00" width="475.00" height="360.00" fill="#ffffff" /><rect x="24.80" y="0.00" width="2.80" height="360.00" fill="#f7f7f7" /><g transform="translate(7,8) scale(1.0000)"><path d="M6.5 0.2 L8.3 1.3 L12 1.2 L12.6 3 L13 7.5 C12.6 10.8 9.8 12.8 6.5 13.8 C3.2 12.8 0.4 10.8 0 7.5 L0.4 3 L1 1.2 L4.7 1.3 Z" fill="#1b1746"/><circle cx="6.5" cy="5.6" r="2.7" fill="#e8742e"/><circle cx="6.5" cy="5.6" r="1.4" fill="#f59b43"/><path d="M2.6 8.6 L6.5 11 L10.4 8.6" fill="none" stroke="#e6e0f0" stroke-width="0.9"/></g><g transform="translate(13.5,216) rotate(-90)"><text x="0" y="0" font-size="6" fill="#222" dominant-baseline="central">Business plan | <tspan font-weight="bold">商业计划书</tspan></text></g><text x="8.60" y="348.30" font-size="8.5" fill="#111" text-anchor="start" font-weight="bold" dominant-baseline="central" textLength="8.60" lengthAdjust="spacingAndGlyphs" >45</text><text x="458.50" y="349.00" font-size="6" fill="#7a7a7a" text-anchor="end" font-weight="normal" dominant-baseline="central" textLength="107.00" lengthAdjust="spacingAndGlyphs" >www.pptgenius.com | 内部资料 禁止外传</text><text x="57.00" y="41.50" font-size="18" fill="#222" text-anchor="start" font-weight="normal" dominant-baseline="central" textLength="53.50" lengthAdjust="spacingAndGlyphs" >柱状图</text><text x="257.50" y="95.00" font-size="13" fill="#262626" text-anchor="middle" font-weight="normal" dominant-baseline="central" textLength="119.00" lengthAdjust="spacingAndGlyphs" >不同年份销量一览表</text><rect x="197.80" y="115.60" width="3.60" height="3.60" fill="#1f1c5c" /><text x="202.40" y="117.50" font-size="7.5" fill="#404040" text-anchor="start" font-weight="normal" dominant-baseline="central" textLength="20.50" lengthAdjust="spacingAndGlyphs" >系列1</text><rect x="230.20" y="115.60" width="3.60" height="3.60" fill="#4e4a87" /><text x="234.80" y="117.50" font-size="7.5" fill="#404040" text-anchor="start" font-weight="normal" dominant-baseline="central" textLength="20.50" lengthAdjust="spacingAndGlyphs" >系列2</text><rect x="262.60" y="115.60" width="3.60" height="3.60" fill="#7a7a7a" /><text x="267.20" y="117.50" font-size="7.5" fill="#404040" text-anchor="start" font-weight="normal" dominant-baseline="central" textLength="20.50" lengthAdjust="spacingAndGlyphs" >系列3</text><rect x="295.00" y="115.60" width="3.60" height="3.60" fill="#bdbdbd" /><text x="299.60" y="117.50" font-size="7.5" fill="#404040" text-anchor="start" font-weight="normal" dominant-baseline="central" textLength="20.50" lengthAdjust="spacingAndGlyphs" >系列4</text><line x1="83.00" y1="291.00" x2="445.30" y2="291.00" stroke="#ececec" stroke-width="0.8" /><text x="76.50" y="291.00" font-size="8" fill="#404040" text-anchor="end" font-weight="normal" dominant-baseline="central" >0</text><line x1="83.00" y1="273.59" x2="445.30" y2="273.59" stroke="#ececec" stroke-width="0.8" /><text x="76.50" y="273.59" font-size="8" fill="#404040" text-anchor="end" font-weight="normal" dominant-baseline="central" >20</text><line x1="83.00" y1="256.18" x2="445.30" y2="256.18" stroke="#ececec" stroke-width="0.8" /><text x="76.50" y="256.18" font-size="8" fill="#404040" text-anchor="end" font-weight="normal" dominant-baseline="central" >40</text><line x1="83.00" y1="238.77" x2="445.30" y2="238.77" stroke="#ececec" stroke-width="0.8" /><text x="76.50" y="238.77" font-size="8" fill="#404040" text-anchor="end" font-weight="normal" dominant-baseline="central" >60</text><line x1="83.00" y1="221.36" x2="445.30" y2="221.36" stroke="#ececec" stroke-width="0.8" /><text x="76.50" y="221.36" font-size="8" fill="#404040" text-anchor="end" font-weight="normal" dominant-baseline="central" >80</text><line x1="83.00" y1="203.94" x2="445.30" y2="203.94" stroke="#ececec" stroke-width="0.8" /><text x="76.50" y="203.94" font-size="8" fill="#404040" text-anchor="end" font-weight="normal" dominant-baseline="central" >100</text><line x1="83.00" y1="186.53" x2="445.30" y2="186.53" stroke="#ececec" stroke-width="0.8" /><text x="76.50" y="186.53" font-size="8" fill="#404040" text-anchor="end" font-weight="normal" dominant-baseline="central" >120</text><line x1="83.00" y1="169.12" x2="445.30" y2="169.12" stroke="#ececec" stroke-width="0.8" /><text x="76.50" y="169.12" font-size="8" fill="#404040" text-anchor="end" font-weight="normal" dominant-baseline="central" >140</text><line x1="83.00" y1="151.71" x2="445.30" y2="151.71" stroke="#ececec" stroke-width="0.8" /><text x="76.50" y="151.71" font-size="8" fill="#404040" text-anchor="end" font-weight="normal" dominant-baseline="central" >160</text><line x1="83.00" y1="134.30" x2="445.30" y2="134.30" stroke="#ececec" stroke-width="0.8" /><text x="76.50" y="134.30" font-size="8" fill="#404040" text-anchor="end" font-weight="normal" dominant-baseline="central" >180</text><rect x="90.10" y="238.77" width="5.80" height="52.23" fill="#1f1c5c" /><text x="93.00" y="232.07" font-size="8" fill="#262626" text-anchor="middle" font-weight="normal" dominant-baseline="central" >60</text><rect x="97.48" y="243.12" width="5.80" height="47.88" fill="#4e4a87" /><text x="100.38" y="236.42" font-size="8" fill="#262626" text-anchor="middle" font-weight="normal" dominant-baseline="central" >55</text><rect x="104.86" y="225.71" width="5.80" height="65.29" fill="#7a7a7a" /><text x="107.76" y="219.01" font-size="8" fill="#262626" text-anchor="middle" font-weight="normal" dominant-baseline="central" >75</text><rect x="112.24" y="217.00" width="5.80" height="74.00" fill="#bdbdbd" /><text x="115.14" y="210.30" font-size="8" fill="#262626" text-anchor="middle" font-weight="normal" dominant-baseline="central" >85</text><text x="104.00" y="299.70" font-size="8" fill="#404040" text-anchor="middle" font-weight="normal" dominant-baseline="central" >2010</text><rect x="130.20" y="221.36" width="5.80" height="69.64" fill="#1f1c5c" /><text x="133.10" y="214.66" font-size="8" fill="#262626" text-anchor="middle" font-weight="normal" dominant-baseline="central" >80</text><rect x="137.58" y="238.77" width="5.80" height="52.23" fill="#4e4a87" /><text x="140.48" y="232.07" font-size="8" fill="#262626" text-anchor="middle" font-weight="normal" dominant-baseline="central" >60</text><rect x="144.96" y="234.41" width="5.80" height="56.59" fill="#7a7a7a" /><text x="147.86" y="227.71" font-size="8" fill="#262626" text-anchor="middle" font-weight="normal" dominant-baseline="central" >65</text><rect x="152.34" y="223.10" width="5.80" height="67.90" fill="#bdbdbd" /><text x="155.24" y="216.40" font-size="8" fill="#262626" text-anchor="middle" font-weight="normal" dominant-baseline="central" >78</text><text x="144.10" y="299.70" font-size="8" fill="#404040" text-anchor="middle" font-weight="normal" dominant-baseline="central" >2012</text><rect x="170.30" y="212.65" width="5.80" height="78.35" fill="#1f1c5c" /><text x="173.20" y="205.95" font-size="8" fill="#262626" text-anchor="middle" font-weight="normal" dominant-baseline="central" >90</text><rect x="177.68" y="225.71" width="5.80" height="65.29" fill="#4e4a87" /><text x="180.58" y="219.01" font-size="8" fill="#262626" text-anchor="middle" font-weight="normal" dominant-baseline="central" >75</text><rect x="185.06" y="240.51" width="5.80" height="50.49" fill="#7a7a7a" /><text x="187.96" y="233.81" font-size="8" fill="#262626" text-anchor="middle" font-weight="normal" dominant-baseline="central" >58</text><rect x="192.44" y="231.80" width="5.80" height="59.20" fill="#bdbdbd" /><text x="195.34" y="225.10" font-size="8" fill="#262626" text-anchor="middle" font-weight="normal" dominant-baseline="central" >68</text><text x="184.20" y="299.70" font-size="8" fill="#404040" text-anchor="middle" font-weight="normal" dominant-baseline="central" >2014</text><rect x="210.40" y="203.94" width="5.80" height="87.06" fill="#1f1c5c" /><text x="213.30" y="197.24" font-size="8" fill="#262626" text-anchor="middle" font-weight="normal" dominant-baseline="central" >100</text><rect x="217.78" y="212.65" width="5.80" height="78.35" fill="#4e4a87" /><text x="220.68" y="205.95" font-size="8" fill="#262626" text-anchor="middle" font-weight="normal" dominant-baseline="central" >90</text><rect x="225.16" y="250.95" width="5.80" height="40.05" fill="#7a7a7a" /><text x="228.06" y="244.25" font-size="8" fill="#262626" text-anchor="middle" font-weight="normal" dominant-baseline="central" >46</text><rect x="232.54" y="283.17" width="5.80" height="7.83" fill="#bdbdbd" /><text x="235.44" y="276.47" font-size="8" fill="#262626" text-anchor="middle" font-weight="normal" dominant-baseline="central" >9</text><text x="224.30" y="299.70" font-size="8" fill="#404040" text-anchor="middle" font-weight="normal" dominant-baseline="central" >2016</text><rect x="250.50" y="186.53" width="5.80" height="104.47" fill="#1f1c5c" /><text x="253.40" y="179.83" font-size="8" fill="#262626" text-anchor="middle" font-weight="normal" dominant-baseline="central" >120</text><rect x="257.88" y="221.36" width="5.80" height="69.64" fill="#4e4a87" /><text x="260.78" y="214.66" font-size="8" fill="#262626" text-anchor="middle" font-weight="normal" dominant-baseline="central" >80</text><rect x="265.26" y="263.14" width="5.80" height="27.86" fill="#7a7a7a" /><text x="268.16" y="256.44" font-size="8" fill="#262626" text-anchor="middle" font-weight="normal" dominant-baseline="central" >32</text><rect x="272.64" y="270.11" width="5.80" height="20.89" fill="#bdbdbd" /><text x="275.54" y="263.41" font-size="8" fill="#262626" text-anchor="middle" font-weight="normal" dominant-baseline="central" >24</text><text x="264.40" y="299.70" font-size="8" fill="#404040" text-anchor="middle" font-weight="normal" dominant-baseline="central" >2018</text><rect x="290.60" y="195.24" width="5.80" height="95.76" fill="#1f1c5c" /><text x="293.50" y="188.54" font-size="8" fill="#262626" text-anchor="middle" font-weight="normal" dominant-baseline="central" >110</text><rect x="297.98" y="212.65" width="5.80" height="78.35" fill="#4e4a87" /><text x="300.88" y="205.95" font-size="8" fill="#262626" text-anchor="middle" font-weight="normal" dominant-baseline="central" >90</text><rect x="305.36" y="243.99" width="5.80" height="47.01" fill="#7a7a7a" /><text x="308.26" y="237.29" font-size="8" fill="#262626" text-anchor="middle" font-weight="normal" dominant-baseline="central" >54</text><rect x="312.74" y="259.66" width="5.80" height="31.34" fill="#bdbdbd" /><text x="315.64" y="252.96" font-size="8" fill="#262626" text-anchor="middle" font-weight="normal" dominant-baseline="central" >36</text><text x="304.50" y="299.70" font-size="8" fill="#404040" text-anchor="middle" font-weight="normal" dominant-baseline="central" >2020</text><rect x="330.70" y="151.71" width="5.80" height="139.29" fill="#1f1c5c" /><text x="333.60" y="145.01" font-size="8" fill="#262626" text-anchor="middle" font-weight="normal" dominant-baseline="central" >160</text><rect x="338.08" y="207.43" width="5.80" height="83.57" fill="#4e4a87" /><text x="340.98" y="200.73" font-size="8" fill="#262626" text-anchor="middle" font-weight="normal" dominant-baseline="central" >96</text><rect x="345.46" y="254.44" width="5.80" height="36.56" fill="#7a7a7a" /><text x="348.36" y="247.74" font-size="8" fill="#262626" text-anchor="middle" font-weight="normal" dominant-baseline="central" >42</text><rect x="352.84" y="244.86" width="5.80" height="46.14" fill="#bdbdbd" /><text x="355.74" y="238.16" font-size="8" fill="#262626" text-anchor="middle" font-weight="normal" dominant-baseline="central" >53</text><text x="344.60" y="299.70" font-size="8" fill="#404040" text-anchor="middle" font-weight="normal" dominant-baseline="central" >2022</text><rect x="370.80" y="160.42" width="5.80" height="130.58" fill="#1f1c5c" /><text x="373.70" y="153.72" font-size="8" fill="#262626" text-anchor="middle" font-weight="normal" dominant-baseline="central" >150</text><rect x="378.18" y="186.53" width="5.80" height="104.47" fill="#4e4a87" /><text x="381.08" y="179.83" font-size="8" fill="#262626" text-anchor="middle" font-weight="normal" dominant-baseline="central" >120</text><rect x="385.56" y="259.66" width="5.80" height="31.34" fill="#7a7a7a" /><text x="388.46" y="252.96" font-size="8" fill="#262626" text-anchor="middle" font-weight="normal" dominant-baseline="central" >36</text><rect x="392.94" y="254.44" width="5.80" height="36.56" fill="#bdbdbd" /><text x="395.84" y="247.74" font-size="8" fill="#262626" text-anchor="middle" font-weight="normal" dominant-baseline="central" >42</text><text x="384.70" y="299.70" font-size="8" fill="#404040" text-anchor="middle" font-weight="normal" dominant-baseline="central" >2024</text><rect x="410.90" y="177.83" width="5.80" height="113.17" fill="#1f1c5c" /><text x="413.80" y="171.13" font-size="8" fill="#262626" text-anchor="middle" font-weight="normal" dominant-baseline="central" >130</text><rect x="418.28" y="195.24" width="5.80" height="95.76" fill="#4e4a87" /><text x="421.18" y="188.54" font-size="8" fill="#262626" text-anchor="middle" font-weight="normal" dominant-baseline="central" >110</text><rect x="425.66" y="237.03" width="5.80" height="53.97" fill="#7a7a7a" /><text x="428.56" y="230.33" font-size="8" fill="#262626" text-anchor="middle" font-weight="normal" dominant-baseline="central" >62</text><rect x="433.04" y="263.14" width="5.80" height="27.86" fill="#bdbdbd" /><text x="435.94" y="256.44" font-size="8" fill="#262626" text-anchor="middle" font-weight="normal" dominant-baseline="central" >32</text><text x="424.80" y="299.70" font-size="8" fill="#404040" text-anchor="middle" font-weight="normal" dominant-baseline="central" >2026</text></svg><svg class="s" style="left:0px;top:740px" width="475" height="360" viewBox="0 0 475 360"><rect x="0.00" y="0.00" width="475.00" height="360.00" fill="#ffffff" /><rect x="24.80" y="0.00" width="2.80" height="360.00" fill="#f7f7f7" /><g transform="translate(7,8) scale(1.0000)"><path d="M6.5 0.2 L8.3 1.3 L12 1.2 L12.6 3 L13 7.5 C12.6 10.8 9.8 12.8 6.5 13.8 C3.2 12.8 0.4 10.8 0 7.5 L0.4 3 L1 1.2 L4.7 1.3 Z" fill="#1b1746"/><circle cx="6.5" cy="5.6" r="2.7" fill="#e8742e"/><circle cx="6.5" cy="5.6" r="1.4" fill="#f59b43"/><path d="M2.6 8.6 L6.5 11 L10.4 8.6" fill="none" stroke="#e6e0f0" stroke-width="0.9"/></g><g transform="translate(13.5,216) rotate(-90)"><text x="0" y="0" font-size="6" fill="#222" dominant-baseline="central">Business plan | <tspan font-weight="bold">商业计划书</tspan></text></g><text x="8.60" y="348.30" font-size="8.5" fill="#111" text-anchor="start" font-weight="bold" dominant-baseline="central" textLength="8.60" lengthAdjust="spacingAndGlyphs" >46</text><text x="458.50" y="349.00" font-size="6" fill="#7a7a7a" text-anchor="end" font-weight="normal" dominant-baseline="central" textLength="107.00" lengthAdjust="spacingAndGlyphs" >www.pptgenius.com | 内部资料 禁止外传</text><text x="57.00" y="41.50" font-size="18" fill="#222" text-anchor="start" font-weight="normal" dominant-baseline="central" textLength="35.50" lengthAdjust="spacingAndGlyphs" >饼图</text><text x="254.00" y="94.50" font-size="13" fill="#262626" text-anchor="middle" font-weight="normal" dominant-baseline="central" textLength="146.50" lengthAdjust="spacingAndGlyphs" >柱状图数据图表分析工具</text><rect x="209.20" y="121.20" width="3.60" height="3.60" fill="#a6a6a6" /><text x="213.80" y="123.00" font-size="8" fill="#404040" text-anchor="start" font-weight="normal" dominant-baseline="central" textLength="21.50" lengthAdjust="spacingAndGlyphs" >分类3</text><rect x="246.80" y="121.20" width="3.60" height="3.60" fill="#5f5b91" /><text x="251.40" y="123.00" font-size="8" fill="#404040" text-anchor="start" font-weight="normal" dominant-baseline="central" textLength="21.50" lengthAdjust="spacingAndGlyphs" >分类2</text><rect x="284.40" y="121.20" width="3.60" height="3.60" fill="#1f1c5c" /><text x="289.00" y="123.00" font-size="8" fill="#404040" text-anchor="start" font-weight="normal" dominant-baseline="central" textLength="21.50" lengthAdjust="spacingAndGlyphs" >分类1</text><line x1="106.30" y1="139.30" x2="106.30" y2="291.70" stroke="#e6e6e6" stroke-width="0.8" /><text x="106.30" y="299.60" font-size="7.5" fill="#404040" text-anchor="middle" font-weight="normal" dominant-baseline="central" >0</text><line x1="151.72" y1="139.30" x2="151.72" y2="291.70" stroke="#e6e6e6" stroke-width="0.8" /><text x="151.72" y="299.60" font-size="7.5" fill="#404040" text-anchor="middle" font-weight="normal" dominant-baseline="central" >20</text><line x1="197.14" y1="139.30" x2="197.14" y2="291.70" stroke="#e6e6e6" stroke-width="0.8" /><text x="197.14" y="299.60" font-size="7.5" fill="#404040" text-anchor="middle" font-weight="normal" dominant-baseline="central" >40</text><line x1="242.56" y1="139.30" x2="242.56" y2="291.70" stroke="#e6e6e6" stroke-width="0.8" /><text x="242.56" y="299.60" font-size="7.5" fill="#404040" text-anchor="middle" font-weight="normal" dominant-baseline="central" >60</text><line x1="287.98" y1="139.30" x2="287.98" y2="291.70" stroke="#e6e6e6" stroke-width="0.8" /><text x="287.98" y="299.60" font-size="7.5" fill="#404040" text-anchor="middle" font-weight="normal" dominant-baseline="central" >80</text><line x1="333.40" y1="139.30" x2="333.40" y2="291.70" stroke="#e6e6e6" stroke-width="0.8" /><text x="333.40" y="299.60" font-size="7.5" fill="#404040" text-anchor="middle" font-weight="normal" dominant-baseline="central" >100</text><line x1="378.82" y1="139.30" x2="378.82" y2="291.70" stroke="#e6e6e6" stroke-width="0.8" /><text x="378.82" y="299.60" font-size="7.5" fill="#404040" text-anchor="middle" font-weight="normal" dominant-baseline="central" >120</text><line x1="424.24" y1="139.30" x2="424.24" y2="291.70" stroke="#e6e6e6" stroke-width="0.8" /><text x="424.24" y="299.60" font-size="7.5" fill="#404040" text-anchor="middle" font-weight="normal" dominant-baseline="central" >140</text><text x="101.50" y="154.00" font-size="7.8" fill="#404040" text-anchor="end" font-weight="normal" dominant-baseline="central" textLength="23.00" lengthAdjust="spacingAndGlyphs" >数据5</text><rect x="106.30" y="143.60" width="272.52" height="5.00" fill="#a6a6a6" /><text x="382.32" y="146.10" font-size="7.8" fill="#262626" text-anchor="start" font-weight="normal" dominant-baseline="central" >120</text><rect x="106.30" y="151.50" width="231.64" height="5.00" fill="#5f5b91" /><text x="341.44" y="154.00" font-size="7.8" fill="#262626" text-anchor="start" font-weight="normal" dominant-baseline="central" >102</text><rect x="106.30" y="159.40" width="181.68" height="5.00" fill="#1f1c5c" /><text x="291.48" y="161.90" font-size="7.8" fill="#262626" text-anchor="start" font-weight="normal" dominant-baseline="central" >80</text><text x="101.50" y="184.40" font-size="7.8" fill="#404040" text-anchor="end" font-weight="normal" dominant-baseline="central" textLength="23.00" lengthAdjust="spacingAndGlyphs" >数据4</text><rect x="106.30" y="174.00" width="174.87" height="5.00" fill="#a6a6a6" /><text x="284.67" y="176.50" font-size="7.8" fill="#262626" text-anchor="start" font-weight="normal" dominant-baseline="central" >77</text><rect x="106.30" y="181.90" width="222.56" height="5.00" fill="#5f5b91" /><text x="332.36" y="184.40" font-size="7.8" fill="#262626" text-anchor="start" font-weight="normal" dominant-baseline="central" >98</text><rect x="106.30" y="189.80" width="147.61" height="5.00" fill="#1f1c5c" /><text x="257.41" y="192.30" font-size="7.8" fill="#262626" text-anchor="start" font-weight="normal" dominant-baseline="central" >65</text><text x="101.50" y="214.80" font-size="7.8" fill="#404040" text-anchor="end" font-weight="normal" dominant-baseline="central" textLength="23.00" lengthAdjust="spacingAndGlyphs" >数据3</text><rect x="106.30" y="204.40" width="181.68" height="5.00" fill="#a6a6a6" /><text x="291.48" y="206.90" font-size="7.8" fill="#262626" text-anchor="start" font-weight="normal" dominant-baseline="central" >80</text><rect x="106.30" y="212.30" width="199.85" height="5.00" fill="#5f5b91" /><text x="309.65" y="214.80" font-size="7.8" fill="#262626" text-anchor="start" font-weight="normal" dominant-baseline="central" >88</text><rect x="106.30" y="220.20" width="154.43" height="5.00" fill="#1f1c5c" /><text x="264.23" y="222.70" font-size="7.8" fill="#262626" text-anchor="start" font-weight="normal" dominant-baseline="central" >68</text><text x="101.50" y="245.30" font-size="7.8" fill="#404040" text-anchor="end" font-weight="normal" dominant-baseline="central" textLength="23.00" lengthAdjust="spacingAndGlyphs" >数据2</text><rect x="106.30" y="234.90" width="147.61" height="5.00" fill="#a6a6a6" /><text x="257.41" y="237.40" font-size="7.8" fill="#262626" text-anchor="start" font-weight="normal" dominant-baseline="central" >65</text><rect x="106.30" y="242.80" width="215.75" height="5.00" fill="#5f5b91" /><text x="325.55" y="245.30" font-size="7.8" fill="#262626" text-anchor="start" font-weight="normal" dominant-baseline="central" >95</text><rect x="106.30" y="250.70" width="170.32" height="5.00" fill="#1f1c5c" /><text x="280.12" y="253.20" font-size="7.8" fill="#262626" text-anchor="start" font-weight="normal" dominant-baseline="central" >75</text><text x="101.50" y="276.00" font-size="7.8" fill="#404040" text-anchor="end" font-weight="normal" dominant-baseline="central" textLength="23.00" lengthAdjust="spacingAndGlyphs" >数据1</text><rect x="106.30" y="265.60" width="177.14" height="5.00" fill="#a6a6a6" /><text x="286.94" y="268.10" font-size="7.8" fill="#262626" text-anchor="start" font-weight="normal" dominant-baseline="central" >78</text><rect x="106.30" y="273.50" width="199.85" height="5.00" fill="#5f5b91" /><text x="309.65" y="276.00" font-size="7.8" fill="#262626" text-anchor="start" font-weight="normal" dominant-baseline="central" >88</text><rect x="106.30" y="281.40" width="181.68" height="5.00" fill="#1f1c5c" /><text x="291.48" y="283.90" font-size="7.8" fill="#262626" text-anchor="start" font-weight="normal" dominant-baseline="central" >80</text></svg><svg class="s" style="left:485px;top:740px" width="475" height="360" viewBox="0 0 475 360"><rect x="0.00" y="0.00" width="475.00" height="360.00" fill="#ffffff" /><rect x="24.80" y="0.00" width="2.80" height="360.00" fill="#f7f7f7" /><g transform="translate(7,8) scale(1.0000)"><path d="M6.5 0.2 L8.3 1.3 L12 1.2 L12.6 3 L13 7.5 C12.6 10.8 9.8 12.8 6.5 13.8 C3.2 12.8 0.4 10.8 0 7.5 L0.4 3 L1 1.2 L4.7 1.3 Z" fill="#1b1746"/><circle cx="6.5" cy="5.6" r="2.7" fill="#e8742e"/><circle cx="6.5" cy="5.6" r="1.4" fill="#f59b43"/><path d="M2.6 8.6 L6.5 11 L10.4 8.6" fill="none" stroke="#e6e0f0" stroke-width="0.9"/></g><g transform="translate(13.5,216) rotate(-90)"><text x="0" y="0" font-size="6" fill="#222" dominant-baseline="central">Business plan | <tspan font-weight="bold">商业计划书</tspan></text></g><text x="8.60" y="348.30" font-size="8.5" fill="#111" text-anchor="start" font-weight="bold" dominant-baseline="central" textLength="8.60" lengthAdjust="spacingAndGlyphs" >47</text><text x="458.50" y="349.00" font-size="6" fill="#7a7a7a" text-anchor="end" font-weight="normal" dominant-baseline="central" textLength="107.00" lengthAdjust="spacingAndGlyphs" >www.pptgenius.com | 内部资料 禁止外传</text><text x="57.00" y="41.50" font-size="18" fill="#222" text-anchor="start" font-weight="normal" dominant-baseline="central" textLength="71.00" lengthAdjust="spacingAndGlyphs" >折线图表</text><text x="165.65" y="111.80" font-size="13" fill="#262626" text-anchor="middle" font-weight="normal" dominant-baseline="central" textLength="118.50" lengthAdjust="spacingAndGlyphs" >折线图数据分析工具</text><line x1="117.90" y1="143.20" x2="130.20" y2="143.20" stroke="#1f1c5c" stroke-width="2.2" /><line x1="164.00" y1="143.20" x2="176.80" y2="143.20" stroke="#dadada" stroke-width="2.2" /><text x="131.20" y="143.20" font-size="6.5" fill="#404040" text-anchor="start" font-weight="normal" dominant-baseline="central" textLength="19.20" lengthAdjust="spacingAndGlyphs" >系列一</text><text x="177.80" y="143.20" font-size="6.5" fill="#404040" text-anchor="start" font-weight="normal" dominant-baseline="central" textLength="19.60" lengthAdjust="spacingAndGlyphs" >系列二</text><line x1="74.80" y1="263.50" x2="252.40" y2="263.50" stroke="#efefef" stroke-width="0.8" /><text x="68.00" y="263.50" font-size="6.5" fill="#262626" text-anchor="end" font-weight="normal" dominant-baseline="central" >0</text><line x1="74.80" y1="241.96" x2="252.40" y2="241.96" stroke="#efefef" stroke-width="0.8" /><text x="68.00" y="241.96" font-size="6.5" fill="#262626" text-anchor="end" font-weight="normal" dominant-baseline="central" >50</text><line x1="74.80" y1="220.42" x2="252.40" y2="220.42" stroke="#efefef" stroke-width="0.8" /><text x="68.00" y="220.42" font-size="6.5" fill="#262626" text-anchor="end" font-weight="normal" dominant-baseline="central" >100</text><line x1="74.80" y1="198.88" x2="252.40" y2="198.88" stroke="#efefef" stroke-width="0.8" /><text x="68.00" y="198.88" font-size="6.5" fill="#262626" text-anchor="end" font-weight="normal" dominant-baseline="central" >150</text><line x1="74.80" y1="177.34" x2="252.40" y2="177.34" stroke="#efefef" stroke-width="0.8" /><text x="68.00" y="177.34" font-size="6.5" fill="#262626" text-anchor="end" font-weight="normal" dominant-baseline="central" >200</text><line x1="74.80" y1="155.80" x2="252.40" y2="155.80" stroke="#efefef" stroke-width="0.8" /><text x="68.00" y="155.80" font-size="6.5" fill="#262626" text-anchor="end" font-weight="normal" dominant-baseline="central" >250</text><line x1="74.80" y1="155.80" x2="74.80" y2="263.50" stroke="#f2f2f2" stroke-width="0.8" /><line x1="97.00" y1="155.80" x2="97.00" y2="263.50" stroke="#f2f2f2" stroke-width="0.8" /><line x1="119.20" y1="155.80" x2="119.20" y2="263.50" stroke="#f2f2f2" stroke-width="0.8" /><line x1="141.40" y1="155.80" x2="141.40" y2="263.50" stroke="#f2f2f2" stroke-width="0.8" /><line x1="163.60" y1="155.80" x2="163.60" y2="263.50" stroke="#f2f2f2" stroke-width="0.8" /><line x1="185.80" y1="155.80" x2="185.80" y2="263.50" stroke="#f2f2f2" stroke-width="0.8" /><line x1="208.00" y1="155.80" x2="208.00" y2="263.50" stroke="#f2f2f2" stroke-width="0.8" /><line x1="230.20" y1="155.80" x2="230.20" y2="263.50" stroke="#f2f2f2" stroke-width="0.8" /><line x1="252.40" y1="155.80" x2="252.40" y2="263.50" stroke="#f2f2f2" stroke-width="0.8" /><text x="85.10" y="274.00" font-size="6.5" fill="#262626" text-anchor="middle" font-weight="normal" dominant-baseline="central" textLength="20.00" lengthAdjust="spacingAndGlyphs" >数据1</text><text x="107.37" y="274.00" font-size="6.5" fill="#262626" text-anchor="middle" font-weight="normal" dominant-baseline="central" textLength="20.00" lengthAdjust="spacingAndGlyphs" >数据2</text><text x="129.64" y="274.00" font-size="6.5" fill="#262626" text-anchor="middle" font-weight="normal" dominant-baseline="central" textLength="20.00" lengthAdjust="spacingAndGlyphs" >数据3</text><text x="151.91" y="274.00" font-size="6.5" fill="#262626" text-anchor="middle" font-weight="normal" dominant-baseline="central" textLength="20.00" lengthAdjust="spacingAndGlyphs" >数据4</text><text x="174.18" y="274.00" font-size="6.5" fill="#262626" text-anchor="middle" font-weight="normal" dominant-baseline="central" textLength="20.00" lengthAdjust="spacingAndGlyphs" >数据5</text><text x="196.45" y="274.00" font-size="6.5" fill="#262626" text-anchor="middle" font-weight="normal" dominant-baseline="central" textLength="20.00" lengthAdjust="spacingAndGlyphs" >数据6</text><text x="218.72" y="274.00" font-size="6.5" fill="#262626" text-anchor="middle" font-weight="normal" dominant-baseline="central" textLength="20.00" lengthAdjust="spacingAndGlyphs" >数据7</text><text x="240.99" y="274.00" font-size="6.5" fill="#262626" text-anchor="middle" font-weight="normal" dominant-baseline="central" textLength="20.00" lengthAdjust="spacingAndGlyphs" >数据8</text><path d="M85.10,241.96 C88.81,239.81 99.95,227.60 107.37,229.04 C114.79,230.47 122.22,251.29 129.64,250.58 C137.06,249.86 144.49,225.45 151.91,224.73 C159.33,224.01 166.76,248.42 174.18,246.27 C181.60,244.11 189.03,212.16 196.45,211.80 C203.87,211.44 211.30,241.24 218.72,244.11 C226.14,246.99 237.28,231.55 240.99,229.04" fill="none" stroke="#1f1c5c" stroke-width="2.3"/><path d="M85.10,263.50 C88.81,259.91 99.95,256.32 107.37,241.96 C114.79,227.60 122.22,174.32 129.64,177.34 C137.06,180.36 144.49,251.44 151.91,260.05 C159.33,268.67 166.76,233.34 174.18,229.04 C181.60,224.73 189.03,241.96 196.45,234.21 C203.87,226.45 211.30,191.27 218.72,182.51 C226.14,173.75 237.28,181.79 240.99,181.65" fill="none" stroke="#ffffff" stroke-width="4.2"/><path d="M85.10,263.50 C88.81,259.91 99.95,256.32 107.37,241.96 C114.79,227.60 122.22,174.32 129.64,177.34 C137.06,180.36 144.49,251.44 151.91,260.05 C159.33,268.67 166.76,233.34 174.18,229.04 C181.60,224.73 189.03,241.96 196.45,234.21 C203.87,226.45 211.30,191.27 218.72,182.51 C226.14,173.75 237.28,181.79 240.99,181.65" fill="none" stroke="#dcdcdc" stroke-width="2.2"/><text x="371.00" y="108.30" font-size="13" fill="#262626" text-anchor="middle" font-weight="normal" dominant-baseline="central" textLength="118.50" lengthAdjust="spacingAndGlyphs" >折线图数据分析工具</text><line x1="324.90" y1="140.00" x2="338.60" y2="140.00" stroke="#1f1c5c" stroke-width="2.2" /><circle cx="331.75" cy="140" r="2.6" fill="#1f1c5c"/><line x1="370.70" y1="140.00" x2="384.50" y2="140.00" stroke="#dadada" stroke-width="2.2" /><circle cx="377.60" cy="140" r="2.6" fill="#dadada"/><text x="339.60" y="140.00" font-size="6.5" fill="#404040" text-anchor="start" font-weight="normal" dominant-baseline="central" textLength="20.40" lengthAdjust="spacingAndGlyphs" >系列一</text><text x="385.50" y="140.00" font-size="6.5" fill="#404040" text-anchor="start" font-weight="normal" dominant-baseline="central" textLength="19.50" lengthAdjust="spacingAndGlyphs" >系列二</text><line x1="282.50" y1="263.50" x2="461.20" y2="263.50" stroke="#efefef" stroke-width="0.8" /><text x="278.00" y="263.50" font-size="6.5" fill="#262626" text-anchor="end" font-weight="normal" dominant-baseline="central" >0</text><line x1="282.50" y1="242.54" x2="461.20" y2="242.54" stroke="#efefef" stroke-width="0.8" /><text x="278.00" y="242.54" font-size="6.5" fill="#262626" text-anchor="end" font-weight="normal" dominant-baseline="central" >50</text><line x1="282.50" y1="221.58" x2="461.20" y2="221.58" stroke="#efefef" stroke-width="0.8" /><text x="278.00" y="221.58" font-size="6.5" fill="#262626" text-anchor="end" font-weight="normal" dominant-baseline="central" >100</text><line x1="282.50" y1="200.62" x2="461.20" y2="200.62" stroke="#efefef" stroke-width="0.8" /><text x="278.00" y="200.62" font-size="6.5" fill="#262626" text-anchor="end" font-weight="normal" dominant-baseline="central" >150</text><line x1="282.50" y1="179.66" x2="461.20" y2="179.66" stroke="#efefef" stroke-width="0.8" /><text x="278.00" y="179.66" font-size="6.5" fill="#262626" text-anchor="end" font-weight="normal" dominant-baseline="central" >200</text><line x1="282.50" y1="158.70" x2="461.20" y2="158.70" stroke="#efefef" stroke-width="0.8" /><text x="278.00" y="158.70" font-size="6.5" fill="#262626" text-anchor="end" font-weight="normal" dominant-baseline="central" >250</text><line x1="282.50" y1="158.70" x2="282.50" y2="263.50" stroke="#f2f2f2" stroke-width="0.8" /><line x1="304.84" y1="158.70" x2="304.84" y2="263.50" stroke="#f2f2f2" stroke-width="0.8" /><line x1="327.18" y1="158.70" x2="327.18" y2="263.50" stroke="#f2f2f2" stroke-width="0.8" /><line x1="349.51" y1="158.70" x2="349.51" y2="263.50" stroke="#f2f2f2" stroke-width="0.8" /><line x1="371.85" y1="158.70" x2="371.85" y2="263.50" stroke="#f2f2f2" stroke-width="0.8" /><line x1="394.19" y1="158.70" x2="394.19" y2="263.50" stroke="#f2f2f2" stroke-width="0.8" /><line x1="416.52" y1="158.70" x2="416.52" y2="263.50" stroke="#f2f2f2" stroke-width="0.8" /><line x1="438.86" y1="158.70" x2="438.86" y2="263.50" stroke="#f2f2f2" stroke-width="0.8" /><line x1="461.20" y1="158.70" x2="461.20" y2="263.50" stroke="#f2f2f2" stroke-width="0.8" /><text x="295.10" y="274.00" font-size="6.5" fill="#262626" text-anchor="middle" font-weight="normal" dominant-baseline="central" textLength="20.00" lengthAdjust="spacingAndGlyphs" >数据1</text><text x="317.36" y="274.00" font-size="6.5" fill="#262626" text-anchor="middle" font-weight="normal" dominant-baseline="central" textLength="20.00" lengthAdjust="spacingAndGlyphs" >数据2</text><text x="339.62" y="274.00" font-size="6.5" fill="#262626" text-anchor="middle" font-weight="normal" dominant-baseline="central" textLength="20.00" lengthAdjust="spacingAndGlyphs" >数据3</text><text x="361.88" y="274.00" font-size="6.5" fill="#262626" text-anchor="middle" font-weight="normal" dominant-baseline="central" textLength="20.00" lengthAdjust="spacingAndGlyphs" >数据4</text><text x="384.14" y="274.00" font-size="6.5" fill="#262626" text-anchor="middle" font-weight="normal" dominant-baseline="central" textLength="20.00" lengthAdjust="spacingAndGlyphs" >数据5</text><text x="406.40" y="274.00" font-size="6.5" fill="#262626" text-anchor="middle" font-weight="normal" dominant-baseline="central" textLength="20.00" lengthAdjust="spacingAndGlyphs" >数据6</text><text x="428.66" y="274.00" font-size="6.5" fill="#262626" text-anchor="middle" font-weight="normal" dominant-baseline="central" textLength="20.00" lengthAdjust="spacingAndGlyphs" >数据7</text><text x="450.92" y="274.00" font-size="6.5" fill="#262626" text-anchor="middle" font-weight="normal" dominant-baseline="central" textLength="20.00" lengthAdjust="spacingAndGlyphs" >数据8</text><path d="M295.10,242.54 C298.81,240.44 309.94,228.57 317.36,229.96 C324.78,231.36 332.20,251.62 339.62,250.92 C347.04,250.23 354.46,226.47 361.88,225.77 C369.30,225.07 376.72,247.43 384.14,246.73 C391.56,246.03 398.98,221.93 406.40,221.58 C413.82,221.23 421.24,243.24 428.66,244.64 C436.08,246.03 447.21,232.41 450.92,229.96" fill="none" stroke="#1f1c5c" stroke-width="2.3"/><path d="M295.10,263.50 C298.81,260.01 309.94,256.51 317.36,242.54 C324.78,228.57 332.20,176.87 339.62,179.66 C347.04,182.45 354.46,250.92 361.88,259.31 C369.30,267.69 376.72,234.16 384.14,229.96 C391.56,225.77 398.98,241.14 406.40,234.16 C413.82,227.17 421.24,196.43 428.66,188.04 C436.08,179.66 447.21,184.55 450.92,183.85" fill="none" stroke="#ffffff" stroke-width="4.2"/><path d="M295.10,263.50 C298.81,260.01 309.94,256.51 317.36,242.54 C324.78,228.57 332.20,176.87 339.62,179.66 C347.04,182.45 354.46,250.92 361.88,259.31 C369.30,267.69 376.72,234.16 384.14,229.96 C391.56,225.77 398.98,241.14 406.40,234.16 C413.82,227.17 421.24,196.43 428.66,188.04 C436.08,179.66 447.21,184.55 450.92,183.85" fill="none" stroke="#dcdcdc" stroke-width="2.2"/><circle cx="295.10" cy="263.50" r="2.4" fill="#dcdcdc"/><circle cx="317.36" cy="242.54" r="2.4" fill="#dcdcdc"/><circle cx="339.62" cy="179.66" r="2.4" fill="#dcdcdc"/><circle cx="361.88" cy="259.31" r="2.4" fill="#dcdcdc"/><circle cx="384.14" cy="229.96" r="2.4" fill="#dcdcdc"/><circle cx="406.40" cy="234.16" r="2.4" fill="#dcdcdc"/><circle cx="428.66" cy="188.04" r="2.4" fill="#dcdcdc"/><circle cx="450.92" cy="183.85" r="2.4" fill="#dcdcdc"/><circle cx="295.10" cy="242.54" r="3.2" fill="#1f1c5c"/><circle cx="317.36" cy="229.96" r="3.2" fill="#1f1c5c"/><circle cx="339.62" cy="250.92" r="3.2" fill="#1f1c5c"/><circle cx="361.88" cy="225.77" r="3.2" fill="#1f1c5c"/><circle cx="384.14" cy="246.73" r="3.2" fill="#1f1c5c"/><circle cx="406.40" cy="221.58" r="3.2" fill="#1f1c5c"/><circle cx="428.66" cy="244.64" r="3.2" fill="#1f1c5c"/><circle cx="450.92" cy="229.96" r="3.2" fill="#1f1c5c"/></svg><svg class="s" style="left:0px;top:1110px" width="475" height="360" viewBox="0 0 475 360"><rect x="0.00" y="0.00" width="475.00" height="360.00" fill="#ffffff" /><rect x="24.80" y="0.00" width="2.80" height="360.00" fill="#f7f7f7" /><g transform="translate(7,8) scale(1.0000)"><path d="M6.5 0.2 L8.3 1.3 L12 1.2 L12.6 3 L13 7.5 C12.6 10.8 9.8 12.8 6.5 13.8 C3.2 12.8 0.4 10.8 0 7.5 L0.4 3 L1 1.2 L4.7 1.3 Z" fill="#1b1746"/><circle cx="6.5" cy="5.6" r="2.7" fill="#e8742e"/><circle cx="6.5" cy="5.6" r="1.4" fill="#f59b43"/><path d="M2.6 8.6 L6.5 11 L10.4 8.6" fill="none" stroke="#e6e0f0" stroke-width="0.9"/></g><g transform="translate(13.5,216) rotate(-90)"><text x="0" y="0" font-size="6" fill="#222" dominant-baseline="central">Business plan | <tspan font-weight="bold">商业计划书</tspan></text></g><text x="8.60" y="348.30" font-size="8.5" fill="#111" text-anchor="start" font-weight="bold" dominant-baseline="central" textLength="8.60" lengthAdjust="spacingAndGlyphs" >48</text><text x="458.50" y="349.00" font-size="6" fill="#7a7a7a" text-anchor="end" font-weight="normal" dominant-baseline="central" textLength="107.00" lengthAdjust="spacingAndGlyphs" >www.pptgenius.com | 内部资料 禁止外传</text><text x="57.00" y="41.50" font-size="18" fill="#222" text-anchor="start" font-weight="normal" dominant-baseline="central" textLength="35.50" lengthAdjust="spacingAndGlyphs" >饼图</text><text x="141.00" y="104.00" font-size="13" fill="#262626" text-anchor="middle" font-weight="normal" dominant-baseline="central" textLength="106.00" lengthAdjust="spacingAndGlyphs" >比例数据对比图表</text><rect x="65.20" y="125.70" width="3.00" height="3.00" fill="#1f1c5c" /><text x="69.80" y="127.20" font-size="7.5" fill="#404040" text-anchor="start" font-weight="normal" dominant-baseline="central" textLength="19.80" lengthAdjust="spacingAndGlyphs" >分类1</text><rect x="98.00" y="125.70" width="3.00" height="3.00" fill="#3b3778" /><text x="102.60" y="127.20" font-size="7.5" fill="#404040" text-anchor="start" font-weight="normal" dominant-baseline="central" textLength="19.80" lengthAdjust="spacingAndGlyphs" >分类2</text><rect x="130.80" y="125.70" width="3.00" height="3.00" fill="#4c4887" /><text x="135.40" y="127.20" font-size="7.5" fill="#404040" text-anchor="start" font-weight="normal" dominant-baseline="central" textLength="19.80" lengthAdjust="spacingAndGlyphs" >分类3</text><rect x="163.60" y="125.70" width="3.00" height="3.00" fill="#5f5b94" /><text x="168.20" y="127.20" font-size="7.5" fill="#404040" text-anchor="start" font-weight="normal" dominant-baseline="central" textLength="19.80" lengthAdjust="spacingAndGlyphs" >分类4</text><rect x="196.40" y="125.70" width="3.00" height="3.00" fill="#726ea1" /><text x="201.00" y="127.20" font-size="7.5" fill="#404040" text-anchor="start" font-weight="normal" dominant-baseline="central" textLength="19.80" lengthAdjust="spacingAndGlyphs" >分类5</text><path d="M145.00,214.70 L145.00,148.20 A66.5,66.5 0 0 1 171.49,275.69 Z" fill="#1f1c5c" stroke="#ffffff" stroke-width="1.2" stroke-linejoin="round"/><path d="M145.00,214.70 L171.49,275.69 A66.5,66.5 0 0 1 82.34,236.97 Z" fill="#3b3778" stroke="#ffffff" stroke-width="1.2" stroke-linejoin="round"/><path d="M145.00,214.70 L82.34,236.97 A66.5,66.5 0 0 1 91.74,174.88 Z" fill="#4c4887" stroke="#ffffff" stroke-width="1.2" stroke-linejoin="round"/><path d="M145.00,214.70 L91.74,174.88 A66.5,66.5 0 0 1 127.06,150.67 Z" fill="#5f5b94" stroke="#ffffff" stroke-width="1.2" stroke-linejoin="round"/><path d="M145.00,214.70 L127.06,150.67 A66.5,66.5 0 0 1 145.00,148.20 Z" fill="#726ea1" stroke="#ffffff" stroke-width="1.2" stroke-linejoin="round"/><text x="177.00" y="209.00" font-size="9" fill="#ffffff" text-anchor="middle" font-weight="bold" dominant-baseline="central" >50</text><text x="131.00" y="246.00" font-size="9" fill="#ffffff" text-anchor="middle" font-weight="bold" dominant-baseline="central" >30</text><text x="112.00" y="210.00" font-size="9" fill="#ffffff" text-anchor="middle" font-weight="bold" dominant-baseline="central" >18</text><text x="126.00" y="187.00" font-size="9" fill="#ffffff" text-anchor="middle" font-weight="bold" dominant-baseline="central" >12</text><text x="140.60" y="182.00" font-size="9" fill="#ffffff" text-anchor="middle" font-weight="bold" dominant-baseline="central" >5</text><line x1="250.80" y1="104.00" x2="250.80" y2="270.00" stroke="#f2f2f2" stroke-width="1" /><text x="356.50" y="104.00" font-size="13" fill="#262626" text-anchor="middle" font-weight="normal" dominant-baseline="central" textLength="132.60" lengthAdjust="spacingAndGlyphs" >数据比例数据对比图表</text><rect x="279.40" y="125.70" width="3.00" height="3.00" fill="#1f1c5c" /><text x="284.00" y="127.20" font-size="7.5" fill="#404040" text-anchor="start" font-weight="normal" dominant-baseline="central" textLength="19.80" lengthAdjust="spacingAndGlyphs" >分类1</text><rect x="312.20" y="125.70" width="3.00" height="3.00" fill="#3b3778" /><text x="316.80" y="127.20" font-size="7.5" fill="#404040" text-anchor="start" font-weight="normal" dominant-baseline="central" textLength="19.80" lengthAdjust="spacingAndGlyphs" >分类2</text><rect x="345.00" y="125.70" width="3.00" height="3.00" fill="#4c4887" /><text x="349.60" y="127.20" font-size="7.5" fill="#404040" text-anchor="start" font-weight="normal" dominant-baseline="central" textLength="19.80" lengthAdjust="spacingAndGlyphs" >分类3</text><rect x="377.80" y="125.70" width="3.00" height="3.00" fill="#5f5b94" /><text x="382.40" y="127.20" font-size="7.5" fill="#404040" text-anchor="start" font-weight="normal" dominant-baseline="central" textLength="19.80" lengthAdjust="spacingAndGlyphs" >分类4</text><rect x="410.60" y="125.70" width="3.00" height="3.00" fill="#726ea1" /><text x="415.20" y="127.20" font-size="7.5" fill="#404040" text-anchor="start" font-weight="normal" dominant-baseline="central" textLength="19.80" lengthAdjust="spacingAndGlyphs" >分类5</text><path d="M359.40,146.00 A66,66 0 0 1 385.69,272.54 L378.12,255.11 A47,47 0 0 0 359.40,165.00 Z" fill="#1f1c5c" stroke="#ffffff" stroke-width="1.2" stroke-linejoin="round"/><path d="M385.69,272.54 A66,66 0 0 1 297.21,234.10 L315.11,227.74 A47,47 0 0 0 378.12,255.11 Z" fill="#3b3778" stroke="#ffffff" stroke-width="1.2" stroke-linejoin="round"/><path d="M297.21,234.10 A66,66 0 0 1 306.54,172.48 L321.76,183.86 A47,47 0 0 0 315.11,227.74 Z" fill="#4c4887" stroke="#ffffff" stroke-width="1.2" stroke-linejoin="round"/><path d="M306.54,172.48 A66,66 0 0 1 341.59,148.45 L346.72,166.74 A47,47 0 0 0 321.76,183.86 Z" fill="#5f5b94" stroke="#ffffff" stroke-width="1.2" stroke-linejoin="round"/><path d="M341.59,148.45 A66,66 0 0 1 359.40,146.00 L359.40,165.00 A47,47 0 0 0 346.72,166.74 Z" fill="#726ea1" stroke="#ffffff" stroke-width="1.2" stroke-linejoin="round"/><text x="414.70" y="201.40" font-size="9" fill="#ffffff" text-anchor="middle" font-weight="bold" dominant-baseline="central" >50</text><text x="337.30" y="264.70" font-size="9" fill="#ffffff" text-anchor="middle" font-weight="bold" dominant-baseline="central" >30</text><text x="303.80" y="203.80" font-size="9" fill="#ffffff" text-anchor="middle" font-weight="bold" dominant-baseline="central" >18</text><text x="328.00" y="165.50" font-size="9" fill="#ffffff" text-anchor="middle" font-weight="bold" dominant-baseline="central" >12</text><text x="351.90" y="156.00" font-size="9" fill="#ffffff" text-anchor="middle" font-weight="bold" dominant-baseline="central" >5</text><g><rect x="342.2" y="193.1" width="15.3" height="13.15" fill="#ffffff" stroke="#1f1c5c" stroke-width="1.2"/><path d="M348.3,206.2 L351.8,206.2 L350.6,209.6 Z" fill="#1f1c5c"/><rect x="345.6" y="197.6" width="9.4" height="0.95" fill="#1f1c5c"/><rect x="345.6" y="199.8" width="9.4" height="0.95" fill="#1f1c5c"/><rect x="345.6" y="201.8" width="9.4" height="0.95" fill="#1f1c5c"/><ellipse cx="362.8" cy="203" rx="6.1" ry="8.1" fill="#ffffff" stroke="#1f1c5c" stroke-width="1.1"/><path d="M356.6,203.5 C355.8,196.5 359.5,194.4 363,194.4 C367,194.4 370,197 369.2,203.5 C368.4,200 366.5,198.6 364,199.4 C361.5,200.3 358.8,200.2 356.6,203.5 Z" fill="#1f1c5c"/><path d="M349,223.1 L349,218.3 C349,214.8 352,213.2 356,212.2 L359.8,211.6 L362.8,216.8 L365.8,211.6 L369.6,212.2 C373.6,213.2 376.6,214.8 376.6,218.3 L376.6,223.1 Z" fill="#1f1c5c"/><path d="M362.2,212.6 L363.4,212.6 L363.9,218 L362.8,219.6 L361.7,218 Z" fill="#1f1c5c"/><rect x="367.6" y="217.3" width="4" height="1.3" fill="#ffffff"/></g></svg><svg class="s" style="left:485px;top:1110px" width="475" height="360" viewBox="0 0 475 360"><rect x="0.00" y="0.00" width="475.00" height="360.00" fill="#ffffff" /><rect x="24.80" y="0.00" width="2.80" height="360.00" fill="#f7f7f7" /><g transform="translate(7,8) scale(1.0000)"><path d="M6.5 0.2 L8.3 1.3 L12 1.2 L12.6 3 L13 7.5 C12.6 10.8 9.8 12.8 6.5 13.8 C3.2 12.8 0.4 10.8 0 7.5 L0.4 3 L1 1.2 L4.7 1.3 Z" fill="#1b1746"/><circle cx="6.5" cy="5.6" r="2.7" fill="#e8742e"/><circle cx="6.5" cy="5.6" r="1.4" fill="#f59b43"/><path d="M2.6 8.6 L6.5 11 L10.4 8.6" fill="none" stroke="#e6e0f0" stroke-width="0.9"/></g><g transform="translate(13.5,216) rotate(-90)"><text x="0" y="0" font-size="6" fill="#222" dominant-baseline="central">Business plan | <tspan font-weight="bold">商业计划书</tspan></text></g><text x="8.60" y="348.30" font-size="8.5" fill="#111" text-anchor="start" font-weight="bold" dominant-baseline="central" textLength="8.60" lengthAdjust="spacingAndGlyphs" >49</text><text x="458.50" y="349.00" font-size="6" fill="#7a7a7a" text-anchor="end" font-weight="normal" dominant-baseline="central" textLength="107.00" lengthAdjust="spacingAndGlyphs" >www.pptgenius.com | 内部资料 禁止外传</text><text x="57.00" y="41.50" font-size="18" fill="#222" text-anchor="start" font-weight="normal" dominant-baseline="central" textLength="35.50" lengthAdjust="spacingAndGlyphs" >饼图</text><text x="118.45" y="97.80" font-size="13" fill="#262626" text-anchor="middle" font-weight="normal" dominant-baseline="central" textLength="80.00" lengthAdjust="spacingAndGlyphs" >输入你的标题</text><rect x="107.95" y="113.00" width="3.60" height="3.60" fill="#1f1c5c" /><text x="113.45" y="114.80" font-size="7" fill="#404040" text-anchor="start" font-weight="normal" dominant-baseline="central" textLength="18.50" lengthAdjust="spacingAndGlyphs" >分类1</text><path d="M167.16,175.43 A47.8,47.8 0 1 1 121.70,142.40 L121.70,165.70 A24.5,24.5 0 1 0 145.00,182.63 Z" fill="#d9d9d9" stroke="#ffffff" stroke-width="1.2"/><path d="M121.70,142.40 A47.8,47.8 0 0 1 167.16,175.43 L145.00,182.63 A24.5,24.5 0 0 0 121.70,165.70 Z" fill="#1f1c5c" stroke="#ffffff" stroke-width="1.2"/><g transform="translate(122.00,189.80) scale(1.0)" fill="#1f1c5c"><g transform="translate(-6.8,0)"><circle cx="0" cy="-10.4" r="2.5"/><path d="M-2.2,-7.2 L2.2,-7.2 C3.1,-7.2 3.2,-6.4 3.2,-5.6 L3.2,2.6 L2.3,2.6 L2.3,10.6 L0.25,10.6 L0.25,4.5 L-0.25,4.5 L-0.25,10.6 L-2.3,10.6 L-2.3,2.6 L-3.2,2.6 L-3.2,-5.6 C-3.2,-6.4 -3.1,-7.2 -2.2,-7.2 Z"/><path d="M-0.45,-7.2 L0.45,-7.2 L0.3,-2.5 L-0.3,-2.5 Z" fill="#ffffff"/></g><g transform="translate(0,0)"><circle cx="0" cy="-10.4" r="2.5"/><path d="M-2.2,-7.2 L2.2,-7.2 C3.1,-7.2 3.2,-6.4 3.2,-5.6 L3.2,2.6 L2.3,2.6 L2.3,10.6 L0.25,10.6 L0.25,4.5 L-0.25,4.5 L-0.25,10.6 L-2.3,10.6 L-2.3,2.6 L-3.2,2.6 L-3.2,-5.6 C-3.2,-6.4 -3.1,-7.2 -2.2,-7.2 Z"/><path d="M-0.45,-7.2 L0.45,-7.2 L0.3,-2.5 L-0.3,-2.5 Z" fill="#ffffff"/></g><g transform="translate(6.8,0)"><circle cx="0" cy="-10.4" r="2.5"/><path d="M-2.2,-7.2 L2.2,-7.2 C3.1,-7.2 3.2,-6.4 3.2,-5.6 L3.2,2.6 L2.3,2.6 L2.3,10.6 L0.25,10.6 L0.25,4.5 L-0.25,4.5 L-0.25,10.6 L-2.3,10.6 L-2.3,2.6 L-3.2,2.6 L-3.2,-5.6 C-3.2,-6.4 -3.1,-7.2 -2.2,-7.2 Z"/><path d="M-0.45,-7.2 L0.45,-7.2 L0.3,-2.5 L-0.3,-2.5 Z" fill="#ffffff"/></g></g><text x="252.95" y="97.80" font-size="13" fill="#262626" text-anchor="middle" font-weight="normal" dominant-baseline="central" textLength="80.00" lengthAdjust="spacingAndGlyphs" >输入你的标题</text><rect x="242.45" y="113.00" width="3.60" height="3.60" fill="#1f1c5c" /><text x="247.95" y="114.80" font-size="7" fill="#404040" text-anchor="start" font-weight="normal" dominant-baseline="central" textLength="18.50" lengthAdjust="spacingAndGlyphs" >分类1</text><path d="M301.96,204.97 A47.8,47.8 0 1 1 256.50,142.40 L256.50,165.70 A24.5,24.5 0 1 0 279.80,197.77 Z" fill="#d9d9d9" stroke="#ffffff" stroke-width="1.2"/><path d="M256.50,142.40 A47.8,47.8 0 0 1 301.96,204.97 L279.80,197.77 A24.5,24.5 0 0 0 256.50,165.70 Z" fill="#1f1c5c" stroke="#ffffff" stroke-width="1.2"/><g transform="translate(256.80,189.80) scale(1.0)" fill="#1f1c5c"><g transform="translate(-6.8,0)"><circle cx="0" cy="-10.4" r="2.5"/><path d="M-2.2,-7.2 L2.2,-7.2 C3.1,-7.2 3.2,-6.4 3.2,-5.6 L3.2,2.6 L2.3,2.6 L2.3,10.6 L0.25,10.6 L0.25,4.5 L-0.25,4.5 L-0.25,10.6 L-2.3,10.6 L-2.3,2.6 L-3.2,2.6 L-3.2,-5.6 C-3.2,-6.4 -3.1,-7.2 -2.2,-7.2 Z"/><path d="M-0.45,-7.2 L0.45,-7.2 L0.3,-2.5 L-0.3,-2.5 Z" fill="#ffffff"/></g><g transform="translate(0,0)"><circle cx="0" cy="-10.4" r="2.5"/><path d="M-2.2,-7.2 L2.2,-7.2 C3.1,-7.2 3.2,-6.4 3.2,-5.6 L3.2,2.6 L2.3,2.6 L2.3,10.6 L0.25,10.6 L0.25,4.5 L-0.25,4.5 L-0.25,10.6 L-2.3,10.6 L-2.3,2.6 L-3.2,2.6 L-3.2,-5.6 C-3.2,-6.4 -3.1,-7.2 -2.2,-7.2 Z"/><path d="M-0.45,-7.2 L0.45,-7.2 L0.3,-2.5 L-0.3,-2.5 Z" fill="#ffffff"/></g><g transform="translate(6.8,0)"><circle cx="0" cy="-10.4" r="2.5"/><path d="M-2.2,-7.2 L2.2,-7.2 C3.1,-7.2 3.2,-6.4 3.2,-5.6 L3.2,2.6 L2.3,2.6 L2.3,10.6 L0.25,10.6 L0.25,4.5 L-0.25,4.5 L-0.25,10.6 L-2.3,10.6 L-2.3,2.6 L-3.2,2.6 L-3.2,-5.6 C-3.2,-6.4 -3.1,-7.2 -2.2,-7.2 Z"/><path d="M-0.45,-7.2 L0.45,-7.2 L0.3,-2.5 L-0.3,-2.5 Z" fill="#ffffff"/></g></g><text x="387.05" y="97.80" font-size="13" fill="#262626" text-anchor="middle" font-weight="normal" dominant-baseline="central" textLength="80.00" lengthAdjust="spacingAndGlyphs" >输入你的标题</text><rect x="376.55" y="113.00" width="3.60" height="3.60" fill="#1f1c5c" /><text x="382.05" y="114.80" font-size="7" fill="#404040" text-anchor="start" font-weight="normal" dominant-baseline="central" textLength="18.50" lengthAdjust="spacingAndGlyphs" >分类1</text><path d="M419.00,228.87 A47.8,47.8 0 1 1 390.90,142.40 L390.90,165.70 A24.5,24.5 0 1 0 405.30,210.02 Z" fill="#d9d9d9" stroke="#ffffff" stroke-width="1.2"/><path d="M390.90,142.40 A47.8,47.8 0 0 1 419.00,228.87 L405.30,210.02 A24.5,24.5 0 0 0 390.90,165.70 Z" fill="#1f1c5c" stroke="#ffffff" stroke-width="1.2"/><g transform="translate(391.20,189.80) scale(1.0)" fill="#1f1c5c"><g transform="translate(-6.8,0)"><circle cx="0" cy="-10.4" r="2.5"/><path d="M-2.2,-7.2 L2.2,-7.2 C3.1,-7.2 3.2,-6.4 3.2,-5.6 L3.2,2.6 L2.3,2.6 L2.3,10.6 L0.25,10.6 L0.25,4.5 L-0.25,4.5 L-0.25,10.6 L-2.3,10.6 L-2.3,2.6 L-3.2,2.6 L-3.2,-5.6 C-3.2,-6.4 -3.1,-7.2 -2.2,-7.2 Z"/><path d="M-0.45,-7.2 L0.45,-7.2 L0.3,-2.5 L-0.3,-2.5 Z" fill="#ffffff"/></g><g transform="translate(0,0)"><circle cx="0" cy="-10.4" r="2.5"/><path d="M-2.2,-7.2 L2.2,-7.2 C3.1,-7.2 3.2,-6.4 3.2,-5.6 L3.2,2.6 L2.3,2.6 L2.3,10.6 L0.25,10.6 L0.25,4.5 L-0.25,4.5 L-0.25,10.6 L-2.3,10.6 L-2.3,2.6 L-3.2,2.6 L-3.2,-5.6 C-3.2,-6.4 -3.1,-7.2 -2.2,-7.2 Z"/><path d="M-0.45,-7.2 L0.45,-7.2 L0.3,-2.5 L-0.3,-2.5 Z" fill="#ffffff"/></g><g transform="translate(6.8,0)"><circle cx="0" cy="-10.4" r="2.5"/><path d="M-2.2,-7.2 L2.2,-7.2 C3.1,-7.2 3.2,-6.4 3.2,-5.6 L3.2,2.6 L2.3,2.6 L2.3,10.6 L0.25,10.6 L0.25,4.5 L-0.25,4.5 L-0.25,10.6 L-2.3,10.6 L-2.3,2.6 L-3.2,2.6 L-3.2,-5.6 C-3.2,-6.4 -3.1,-7.2 -2.2,-7.2 Z"/><path d="M-0.45,-7.2 L0.45,-7.2 L0.3,-2.5 L-0.3,-2.5 Z" fill="#ffffff"/></g></g><text x="142.60" y="161.80" font-size="9" fill="#fff" text-anchor="middle" font-weight="bold" dominant-baseline="central" >20</text><text x="101.00" y="220.30" font-size="9" fill="#333" text-anchor="middle" font-weight="bold" dominant-baseline="central" >80</text><text x="285.60" y="169.00" font-size="9" fill="#fff" text-anchor="middle" font-weight="bold" dominant-baseline="central" >30</text><text x="228.00" y="212.20" font-size="9" fill="#333" text-anchor="middle" font-weight="bold" dominant-baseline="central" >70</text><text x="424.40" y="179.80" font-size="9" fill="#fff" text-anchor="middle" font-weight="bold" dominant-baseline="central" >40</text><text x="357.00" y="201.50" font-size="9" fill="#333" text-anchor="middle" font-weight="bold" dominant-baseline="central" >60</text><line x1="188.20" y1="123.00" x2="188.20" y2="234.00" stroke="#e8e8e8" stroke-width="0.9" /><line x1="320.60" y1="123.00" x2="320.60" y2="234.00" stroke="#e8e8e8" stroke-width="0.9" /><text x="252.30" y="266.50" font-size="13" fill="#1f1c5c" text-anchor="middle" font-weight="bold" dominant-baseline="central" textLength="131.00" lengthAdjust="spacingAndGlyphs" >点击此处添加结论文字</text><text x="252.55" y="286.50" font-size="9.5" fill="#404040" text-anchor="middle" font-weight="normal" dominant-baseline="central" textLength="194.30" lengthAdjust="spacingAndGlyphs" >标题数字等都可以通过点击和重新输入进行更改</text></svg><svg class="s" style="left:0px;top:1480px" width="475" height="360" viewBox="0 0 475 360"><rect x="0.00" y="0.00" width="475.00" height="360.00" fill="#ffffff" /><rect x="24.80" y="0.00" width="2.80" height="360.00" fill="#f7f7f7" /><g transform="translate(7,8) scale(1.0000)"><path d="M6.5 0.2 L8.3 1.3 L12 1.2 L12.6 3 L13 7.5 C12.6 10.8 9.8 12.8 6.5 13.8 C3.2 12.8 0.4 10.8 0 7.5 L0.4 3 L1 1.2 L4.7 1.3 Z" fill="#1b1746"/><circle cx="6.5" cy="5.6" r="2.7" fill="#e8742e"/><circle cx="6.5" cy="5.6" r="1.4" fill="#f59b43"/><path d="M2.6 8.6 L6.5 11 L10.4 8.6" fill="none" stroke="#e6e0f0" stroke-width="0.9"/></g><g transform="translate(13.5,216) rotate(-90)"><text x="0" y="0" font-size="6" fill="#222" dominant-baseline="central">Business plan | <tspan font-weight="bold">商业计划书</tspan></text></g><text x="8.60" y="348.30" font-size="8.5" fill="#111" text-anchor="start" font-weight="bold" dominant-baseline="central" textLength="8.60" lengthAdjust="spacingAndGlyphs" >50</text><text x="458.50" y="349.00" font-size="6" fill="#7a7a7a" text-anchor="end" font-weight="normal" dominant-baseline="central" textLength="107.00" lengthAdjust="spacingAndGlyphs" >www.pptgenius.com | 内部资料 禁止外传</text><text x="57.00" y="41.50" font-size="18" fill="#222" text-anchor="start" font-weight="normal" dominant-baseline="central" textLength="35.50" lengthAdjust="spacingAndGlyphs" >饼图</text><path d="M155,121.3 L202.5,90 L202.5,214.7 L155,184.2 Z" fill="#e6e6ee"/><path d="M149.02,181.93 A47,47 0 1 1 149.02,126.67 L134.22,137.43 A28.7,28.7 0 1 0 134.22,171.17 Z" fill="#d9d9d9" /><path d="M148.54,126.01 A47,47 0 0 1 149.02,181.93 L134.22,171.17 A28.7,28.7 0 0 0 133.92,137.03 Z" fill="#1f1c5c" stroke="#ffffff" stroke-width="1.4"/><g fill="#c6c6c6"><circle cx="101.6" cy="144.8" r="2.5"/><circle cx="119.7" cy="144.8" r="2.5"/><circle cx="110.2" cy="145.9" r="4.1" fill="none" stroke="#c6c6c6" stroke-width="1.4"/><path d="M108,145.8 L109.7,147.6 L112.6,144" fill="none" stroke="#c6c6c6" stroke-width="1.3"/><rect x="99" y="149.6" width="4.8" height="9.6"/><rect x="103.8" y="155.8" width="4.2" height="8.4"/><rect x="117.3" y="149.6" width="4.8" height="9.6"/><rect x="113" y="155.8" width="4.3" height="8.4"/><rect x="105.2" y="152" width="9.8" height="1.2"/><rect x="109.8" y="152.5" width="1.2" height="12.1"/></g><text x="72.90" y="156.30" font-size="8.5" fill="#333" text-anchor="middle" font-weight="bold" dominant-baseline="central" textLength="15.80" lengthAdjust="spacingAndGlyphs" >80%</text><text x="147.90" y="156.30" font-size="8.5" fill="#fff" text-anchor="middle" font-weight="bold" dominant-baseline="central" textLength="15.80" lengthAdjust="spacingAndGlyphs" >20%</text><rect x="208.30" y="90.00" width="251.20" height="124.70" fill="#efefef" /><line x1="202.30" y1="90.00" x2="202.30" y2="214.70" stroke="#f4f4f4" stroke-width="1" /><text x="332.90" y="108.50" font-size="13" fill="#262626" text-anchor="middle" font-weight="normal" dominant-baseline="central" textLength="145.50" lengthAdjust="spacingAndGlyphs" >柱状图数据图表分析工具</text><text x="249.30" y="130.80" font-size="8" fill="#404040" text-anchor="end" font-weight="normal" dominant-baseline="central" textLength="20.50" lengthAdjust="spacingAndGlyphs" >数据5</text><rect x="256.00" y="126.40" width="146.88" height="8.80" fill="#1f1c5c" /><text x="407.38" y="130.80" font-size="8" fill="#404040" text-anchor="start" font-weight="normal" dominant-baseline="central" >80</text><text x="249.30" y="147.10" font-size="8" fill="#404040" text-anchor="end" font-weight="normal" dominant-baseline="central" textLength="20.50" lengthAdjust="spacingAndGlyphs" >数据4</text><rect x="256.00" y="142.70" width="119.34" height="8.80" fill="#1f1c5c" /><text x="379.84" y="147.10" font-size="8" fill="#404040" text-anchor="start" font-weight="normal" dominant-baseline="central" >65</text><text x="249.30" y="163.40" font-size="8" fill="#404040" text-anchor="end" font-weight="normal" dominant-baseline="central" textLength="20.50" lengthAdjust="spacingAndGlyphs" >数据3</text><rect x="256.00" y="159.00" width="124.85" height="8.80" fill="#1f1c5c" /><text x="385.35" y="163.40" font-size="8" fill="#404040" text-anchor="start" font-weight="normal" dominant-baseline="central" >68</text><text x="249.30" y="179.40" font-size="8" fill="#404040" text-anchor="end" font-weight="normal" dominant-baseline="central" textLength="20.50" lengthAdjust="spacingAndGlyphs" >数据2</text><rect x="256.00" y="175.00" width="137.70" height="8.80" fill="#1f1c5c" /><text x="398.20" y="179.40" font-size="8" fill="#404040" text-anchor="start" font-weight="normal" dominant-baseline="central" >75</text><text x="249.30" y="195.40" font-size="8" fill="#404040" text-anchor="end" font-weight="normal" dominant-baseline="central" textLength="20.50" lengthAdjust="spacingAndGlyphs" >数据1</text><rect x="256.00" y="191.00" width="146.88" height="8.80" fill="#1f1c5c" /><text x="407.38" y="195.40" font-size="8" fill="#404040" text-anchor="start" font-weight="normal" dominant-baseline="central" >80</text><text x="102.70" y="257.20" font-size="13" fill="#1f1c5c" text-anchor="start" font-weight="bold" dominant-baseline="central" textLength="132.50" lengthAdjust="spacingAndGlyphs" >点击此处添加结论文字</text><text x="240.50" y="257.80" font-size="9.5" fill="#404040" text-anchor="start" font-weight="normal" dominant-baseline="central" textLength="174.50" lengthAdjust="spacingAndGlyphs" >，标题数字等都可以通过点击和重新输入进</text><text x="102.70" y="278.30" font-size="9.5" fill="#404040" text-anchor="start" font-weight="normal" dominant-baseline="central" textLength="296.00" lengthAdjust="spacingAndGlyphs" >行更改，顶部<tspan dx="6">“</tspan>开始”<tspan dx="6">面</tspan>板中可以对字体、字号、颜色、行距等进行修改</text></svg><svg class="s" style="left:485px;top:1480px" width="475" height="360" viewBox="0 0 475 360"><defs><radialGradient id="bg51" gradientUnits="userSpaceOnUse" cx="40" cy="60" r="520"><stop offset="0" stop-color="#e4e4e4"/><stop offset="0.45" stop-color="#eaeaea"/><stop offset="0.8" stop-color="#f6f6f6"/><stop offset="1" stop-color="#ffffff"/></radialGradient><linearGradient id="nv51" x1="0" y1="0" x2="0.3" y2="1"><stop offset="0" stop-color="#4d4986"/><stop offset="1" stop-color="#23205f"/></linearGradient><linearGradient id="dg51" x1="1" y1="0" x2="0" y2="1"><stop offset="0" stop-color="#4a4a4a"/><stop offset="1" stop-color="#353535"/></linearGradient><filter id="bl51" x="-20%" y="-20%" width="140%" height="140%"><feGaussianBlur stdDeviation="2.2"/></filter><clipPath id="cp51"><rect x="0" y="0" width="475" height="360"/></clipPath></defs><g clip-path="url(#cp51)"><rect x="0.00" y="0.00" width="475.00" height="360.00" fill="#ffffff" /><defs><radialGradient id="rg51" gradientUnits="userSpaceOnUse" cx="0" cy="0" r="1000" gradientTransform="translate(440,-400) scale(1,1.414)"><stop offset="0.315" stop-color="#ffffff"/><stop offset="0.345" stop-color="#f2f2f2"/><stop offset="0.4" stop-color="#eaeaea"/><stop offset="0.55" stop-color="#e7e7e7"/><stop offset="0.62" stop-color="#eeeeee"/><stop offset="0.72" stop-color="#fafafa"/></radialGradient></defs><rect x="0.00" y="0.00" width="475.00" height="360.00" fill="url(#rg51)" /><g filter="url(#bl51)"><ellipse cx="440" cy="-400" rx="332.3" ry="469.9" fill="none" stroke="#ffffff" stroke-width="2.60" stroke-opacity="0.75"/><ellipse cx="440" cy="-400" rx="340.7" ry="481.7" fill="none" stroke="#ffffff" stroke-width="2.95" stroke-opacity="0.75"/><ellipse cx="440" cy="-400" rx="350.5" ry="495.6" fill="none" stroke="#ffffff" stroke-width="3.30" stroke-opacity="0.75"/><ellipse cx="440" cy="-400" rx="363" ry="513.3" fill="none" stroke="#ffffff" stroke-width="3.65" stroke-opacity="0.75"/><ellipse cx="440" cy="-400" rx="376.8" ry="532.8" fill="none" stroke="#ffffff" stroke-width="4.00" stroke-opacity="0.75"/><ellipse cx="440" cy="-400" rx="391.7" ry="553.9" fill="none" stroke="#ffffff" stroke-width="4.35" stroke-opacity="0.75"/><ellipse cx="440" cy="-400" rx="410.9" ry="581.0" fill="none" stroke="#ffffff" stroke-width="4.70" stroke-opacity="0.75"/><ellipse cx="440" cy="-400" rx="435.4" ry="615.7" fill="none" stroke="#ffffff" stroke-width="5.05" stroke-opacity="0.75"/><ellipse cx="440" cy="-400" rx="464.1" ry="656.2" fill="none" stroke="#ffffff" stroke-width="5.40" stroke-opacity="0.75"/><ellipse cx="440" cy="-400" rx="499.7" ry="706.6" fill="none" stroke="#ffffff" stroke-width="5.75" stroke-opacity="0.75"/><ellipse cx="440" cy="-400" rx="548" ry="774.9" fill="none" stroke="#ffffff" stroke-width="6.10" stroke-opacity="0.75"/><ellipse cx="440" cy="-400" rx="605" ry="855.5" fill="none" stroke="#ffffff" stroke-width="6.45" stroke-opacity="0.75"/></g><g><ellipse cx="440" cy="-400" rx="332.3" ry="469.9" fill="none" stroke="#ffffff" stroke-width="1.1" stroke-opacity="0.35"/><ellipse cx="440" cy="-400" rx="340.7" ry="481.7" fill="none" stroke="#ffffff" stroke-width="1.1" stroke-opacity="0.35"/><ellipse cx="440" cy="-400" rx="350.5" ry="495.6" fill="none" stroke="#ffffff" stroke-width="1.1" stroke-opacity="0.35"/><ellipse cx="440" cy="-400" rx="363" ry="513.3" fill="none" stroke="#ffffff" stroke-width="1.1" stroke-opacity="0.35"/><ellipse cx="440" cy="-400" rx="376.8" ry="532.8" fill="none" stroke="#ffffff" stroke-width="1.1" stroke-opacity="0.35"/><ellipse cx="440" cy="-400" rx="391.7" ry="553.9" fill="none" stroke="#ffffff" stroke-width="1.1" stroke-opacity="0.35"/><ellipse cx="440" cy="-400" rx="410.9" ry="581.0" fill="none" stroke="#ffffff" stroke-width="1.1" stroke-opacity="0.35"/><ellipse cx="440" cy="-400" rx="435.4" ry="615.7" fill="none" stroke="#ffffff" stroke-width="1.1" stroke-opacity="0.35"/><ellipse cx="440" cy="-400" rx="464.1" ry="656.2" fill="none" stroke="#ffffff" stroke-width="1.1" stroke-opacity="0.35"/><ellipse cx="440" cy="-400" rx="499.7" ry="706.6" fill="none" stroke="#ffffff" stroke-width="1.1" stroke-opacity="0.35"/><ellipse cx="440" cy="-400" rx="548" ry="774.9" fill="none" stroke="#ffffff" stroke-width="1.1" stroke-opacity="0.35"/><ellipse cx="440" cy="-400" rx="605" ry="855.5" fill="none" stroke="#ffffff" stroke-width="1.1" stroke-opacity="0.35"/></g><defs><radialGradient id="wf51" gradientUnits="userSpaceOnUse" cx="470" cy="290" r="230"><stop offset="0" stop-color="#ffffff" stop-opacity="1"/><stop offset="0.55" stop-color="#ffffff" stop-opacity="0.8"/><stop offset="1" stop-color="#ffffff" stop-opacity="0"/></radialGradient></defs><rect x="0.00" y="0.00" width="475.00" height="360.00" fill="url(#wf51)" /><defs><radialGradient id="tl51" gradientUnits="userSpaceOnUse" cx="10" cy="5" r="110"><stop offset="0" stop-color="#ffffff" stop-opacity="0.75"/><stop offset="1" stop-color="#ffffff" stop-opacity="0"/></radialGradient></defs><rect x="0.00" y="0.00" width="475.00" height="360.00" fill="url(#tl51)" /><path d="M-5.00,228.00 C1.33,231.00 21.00,240.00 33.00,246.00 C45.00,252.00 55.83,258.00 67.00,264.00 C78.17,270.00 89.00,276.83 100.00,282.00 C111.00,287.17 117.67,289.67 133.00,295.00 C148.33,300.33 172.50,309.17 192.00,314.00 C211.50,318.83 227.00,321.33 250.00,324.00 C273.00,326.67 291.67,329.00 330.00,330.00 C368.33,331.00 455.00,330.00 480.00,330.00" fill="none" stroke="#ffffff" stroke-width="22" stroke-opacity="0.9" filter="url(#bl51)"/><path d="M476.00,275.00 C469.17,279.17 450.17,292.50 435.00,300.00 C419.83,307.50 401.67,313.42 385.00,320.00 C368.33,326.58 348.33,334.67 335.00,339.50 C321.67,344.33 316.25,345.92 305.00,349.00 C293.75,352.08 278.33,355.83 267.50,358.00 C256.67,360.17 244.58,361.33 240.00,362.00 L476,362 Z" fill="url(#dg51)"/><path d="M-1.00,243.70 C4.72,246.70 22.02,255.65 33.30,261.70 C44.58,267.75 55.58,274.03 66.70,280.00 C77.82,285.97 88.90,292.37 100.00,297.50 C111.10,302.63 124.13,307.52 133.30,310.80 C142.47,314.08 145.13,314.10 155.00,317.20 C164.87,320.30 180.00,325.97 192.50,329.40 C205.00,332.83 217.50,335.62 230.00,337.80 C242.50,339.98 254.07,341.25 267.50,342.50 C280.93,343.75 303.42,344.83 310.60,345.30 C306.54,346.08 296.56,348.28 286.25,350.00 C275.94,351.72 261.25,354.03 248.75,355.60 C236.25,357.17 224.38,358.42 211.25,359.40 C198.12,360.38 176.88,361.15 170.00,361.50 L-1,361.5 Z" fill="url(#nv51)" stroke="#ffffff" stroke-width="1.2"/><g transform="translate(423.6,20.7)"><path d="M17 0 L21 2.5 L30 3 L33 6 L34 20 C33 28 26 33 17 36 C8 33 1 28 0 20 L1 6 L4 3 L13 2.5 Z" fill="#1d1a55"/><path d="M17 2.5 L20.5 4.5 L28.5 5 L31 7.5 L31.8 20 C31 26.5 25 31 17 33.8 C9 31 3 26.5 2.2 20 L3 7.5 L5.5 5 L13.5 4.5 Z" fill="none" stroke="#ffffff" stroke-width="0.9"/><path d="M17 4.5 L20 6.3 L27.5 6.8 L29.8 9 L30.3 20 C29.6 25.8 24 29.8 17 32.3 C10 29.8 4.4 25.8 3.7 20 L4.2 9 L6.5 6.8 L14 6.3 Z" fill="#22207a"/><circle cx="17" cy="11" r="4" fill="#ea522b"/><circle cx="12.5" cy="14.5" r="4" fill="#ea522b"/><circle cx="21.5" cy="14.5" r="4" fill="#ea522b"/><circle cx="17" cy="18" r="4" fill="#ea522b"/><circle cx="17" cy="14.5" r="2.6" fill="#f6a13a"/><path d="M6.5 18.5 L11 22 L17 25.5 L23 22 L27.5 18.5 L27 22.5 L17 28.5 L7 22.5 Z" fill="#e4c06a"/></g><rect x="76.70" y="116.30" width="57.90" height="56.90" fill="#1f1c5c" /><text x="105.60" y="145.80" font-size="40" fill="#ffffff" text-anchor="middle" font-weight="bold" dominant-baseline="central" textLength="47.00" lengthAdjust="spacingAndGlyphs" >05</text><text x="151.50" y="136.30" font-size="32" fill="#1f1c5c" text-anchor="start" font-weight="bold" dominant-baseline="central" textLength="127.00" lengthAdjust="spacingAndGlyphs" stroke="#1f1c5c" stroke-width="0.9">行业分析</text><rect x="151.00" y="162.60" width="240.00" height="1.20" fill="#222" /><text x="151.00" y="181.80" font-size="12" fill="#333333" text-anchor="start" font-weight="normal" dominant-baseline="central" textLength="240.00" lengthAdjust="spacingAndGlyphs" >主要介绍企业所归属的产业领域的基本情况，</text><text x="151.00" y="199.50" font-size="12" fill="#333333" text-anchor="start" font-weight="normal" dominant-baseline="central" textLength="240.00" lengthAdjust="spacingAndGlyphs" >以及企业在整个产业或行业中的地位。和同类</text><text x="151.00" y="217.20" font-size="12" fill="#333333" text-anchor="start" font-weight="normal" dominant-baseline="central" textLength="240.00" lengthAdjust="spacingAndGlyphs" >型企业进行对比分析，做分析，表现企业的核</text><text x="151.00" y="234.90" font-size="12" fill="#333333" text-anchor="start" font-weight="normal" dominant-baseline="central" textLength="72.00" lengthAdjust="spacingAndGlyphs" >心竞争优势。</text><text x="8.60" y="348.50" font-size="8" fill="#ffffff" text-anchor="start" font-weight="bold" dominant-baseline="central" >51</text><text x="27.00" y="348.50" font-size="6.8" fill="#ffffff" text-anchor="start" font-weight="normal" dominant-baseline="central" textLength="79.50" lengthAdjust="spacingAndGlyphs" >Business plan | <tspan font-weight="bold">商业计划书</tspan></text><text x="458.50" y="349.20" font-size="5.6" fill="#9a9a9a" text-anchor="end" font-weight="normal" dominant-baseline="central" >www.pptgenius.com | 内部资料 禁止外传</text></g></svg>
</body></html>
